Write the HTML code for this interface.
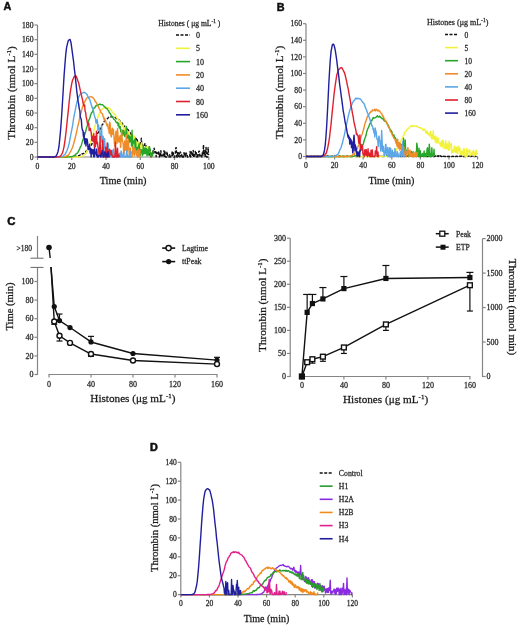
<!DOCTYPE html><html><head><meta charset="utf-8"><style>html,body{margin:0;padding:0;background:#fff;}svg{display:block;filter:blur(0.35px)}</style></head><body>
<svg width="520" height="628" viewBox="0 0 520 628">
<rect width="520" height="628" fill="#fff"/>
<text x="3.6" y="10.4" font-family='"Liberation Sans", sans-serif' font-size="10.8" text-anchor="start" font-weight="bold" fill="#111" stroke="#111" stroke-width="0.45" >A</text>
<line x1="37.5" y1="157.5" x2="37.5" y2="25.01" stroke="#858585" stroke-width="1.2" />
<line x1="34.5" y1="157" x2="37.5" y2="157" stroke="#858585" stroke-width="1.2" />
<text x="33.5" y="159.65" font-family='"Liberation Serif", serif' font-size="7.7" text-anchor="end" font-weight="normal" fill="#2b2b2b" stroke="#2b2b2b" stroke-width="0.26" >0</text>
<line x1="34.5" y1="142.33" x2="37.5" y2="142.33" stroke="#858585" stroke-width="1.2" />
<text x="33.5" y="144.98" font-family='"Liberation Serif", serif' font-size="7.7" text-anchor="end" font-weight="normal" fill="#2b2b2b" stroke="#2b2b2b" stroke-width="0.26" >20</text>
<line x1="34.5" y1="127.67" x2="37.5" y2="127.67" stroke="#858585" stroke-width="1.2" />
<text x="33.5" y="130.32" font-family='"Liberation Serif", serif' font-size="7.7" text-anchor="end" font-weight="normal" fill="#2b2b2b" stroke="#2b2b2b" stroke-width="0.26" >40</text>
<line x1="34.5" y1="113" x2="37.5" y2="113" stroke="#858585" stroke-width="1.2" />
<text x="33.5" y="115.65" font-family='"Liberation Serif", serif' font-size="7.7" text-anchor="end" font-weight="normal" fill="#2b2b2b" stroke="#2b2b2b" stroke-width="0.26" >60</text>
<line x1="34.5" y1="98.34" x2="37.5" y2="98.34" stroke="#858585" stroke-width="1.2" />
<text x="33.5" y="100.99" font-family='"Liberation Serif", serif' font-size="7.7" text-anchor="end" font-weight="normal" fill="#2b2b2b" stroke="#2b2b2b" stroke-width="0.26" >80</text>
<line x1="34.5" y1="83.67" x2="37.5" y2="83.67" stroke="#858585" stroke-width="1.2" />
<text x="33.5" y="86.32" font-family='"Liberation Serif", serif' font-size="7.7" text-anchor="end" font-weight="normal" fill="#2b2b2b" stroke="#2b2b2b" stroke-width="0.26" >100</text>
<line x1="34.5" y1="69" x2="37.5" y2="69" stroke="#858585" stroke-width="1.2" />
<text x="33.5" y="71.65" font-family='"Liberation Serif", serif' font-size="7.7" text-anchor="end" font-weight="normal" fill="#2b2b2b" stroke="#2b2b2b" stroke-width="0.26" >120</text>
<line x1="34.5" y1="54.34" x2="37.5" y2="54.34" stroke="#858585" stroke-width="1.2" />
<text x="33.5" y="56.99" font-family='"Liberation Serif", serif' font-size="7.7" text-anchor="end" font-weight="normal" fill="#2b2b2b" stroke="#2b2b2b" stroke-width="0.26" >140</text>
<line x1="34.5" y1="39.67" x2="37.5" y2="39.67" stroke="#858585" stroke-width="1.2" />
<text x="33.5" y="42.32" font-family='"Liberation Serif", serif' font-size="7.7" text-anchor="end" font-weight="normal" fill="#2b2b2b" stroke="#2b2b2b" stroke-width="0.26" >160</text>
<line x1="34.5" y1="25.01" x2="37.5" y2="25.01" stroke="#858585" stroke-width="1.2" />
<text x="33.5" y="27.66" font-family='"Liberation Serif", serif' font-size="7.7" text-anchor="end" font-weight="normal" fill="#2b2b2b" stroke="#2b2b2b" stroke-width="0.26" >180</text>
<line x1="37" y1="157" x2="208.8" y2="157" stroke="#858585" stroke-width="1.2" />
<line x1="37.5" y1="157" x2="37.5" y2="160" stroke="#858585" stroke-width="1.2" />
<text x="37.5" y="168.5" font-family='"Liberation Serif", serif' font-size="7.7" text-anchor="middle" font-weight="normal" fill="#2b2b2b" stroke="#2b2b2b" stroke-width="0.26" >0</text>
<line x1="71.76" y1="157" x2="71.76" y2="160" stroke="#858585" stroke-width="1.2" />
<text x="71.76" y="168.5" font-family='"Liberation Serif", serif' font-size="7.7" text-anchor="middle" font-weight="normal" fill="#2b2b2b" stroke="#2b2b2b" stroke-width="0.26" >20</text>
<line x1="106.02" y1="157" x2="106.02" y2="160" stroke="#858585" stroke-width="1.2" />
<text x="106.02" y="168.5" font-family='"Liberation Serif", serif' font-size="7.7" text-anchor="middle" font-weight="normal" fill="#2b2b2b" stroke="#2b2b2b" stroke-width="0.26" >40</text>
<line x1="140.28" y1="157" x2="140.28" y2="160" stroke="#858585" stroke-width="1.2" />
<text x="140.28" y="168.5" font-family='"Liberation Serif", serif' font-size="7.7" text-anchor="middle" font-weight="normal" fill="#2b2b2b" stroke="#2b2b2b" stroke-width="0.26" >60</text>
<line x1="174.54" y1="157" x2="174.54" y2="160" stroke="#858585" stroke-width="1.2" />
<text x="174.54" y="168.5" font-family='"Liberation Serif", serif' font-size="7.7" text-anchor="middle" font-weight="normal" fill="#2b2b2b" stroke="#2b2b2b" stroke-width="0.26" >80</text>
<line x1="208.8" y1="157" x2="208.8" y2="160" stroke="#858585" stroke-width="1.2" />
<text x="208.8" y="168.5" font-family='"Liberation Serif", serif' font-size="7.7" text-anchor="middle" font-weight="normal" fill="#2b2b2b" stroke="#2b2b2b" stroke-width="0.26" >100</text>
<text x="123.1" y="184.1" font-family='"Liberation Serif", serif' font-size="10.3" text-anchor="middle" font-weight="normal" fill="#1a1a1a" stroke="#1a1a1a" stroke-width="0.26" >Time (min)</text>
<text x="0" y="0" font-family='"Liberation Serif", serif' font-size="11.2" text-anchor="middle" font-weight="normal" fill="#1a1a1a" stroke="#1a1a1a" stroke-width="0.26" transform="translate(14.5,92.9) rotate(-90)">Thrombin (nmol L<tspan dy="-4" font-size="7">-1</tspan><tspan dy="4">)</tspan></text>
<polyline points="37.5,157 38.36,157 39.21,157 40.07,157 40.93,157 41.78,157 42.64,157 43.5,157 44.35,157 45.21,157 46.06,157 46.92,157 47.78,157 48.63,157 49.49,157 50.35,157 51.2,157 52.06,157 52.92,157 53.77,157 54.63,157 55.49,157 56.34,157 57.2,157 58.06,156.99 58.91,156.99 59.77,156.99 60.63,156.99 61.48,156.98 62.34,156.98 63.2,156.97 64.05,156.96 64.91,156.95 65.76,156.94 66.62,156.92 67.48,156.9 68.33,156.87 69.19,156.83 70.05,156.79 70.9,156.74 71.76,156.68 72.62,156.6 73.47,156.51 74.33,156.41 75.19,156.28 76.04,156.12 76.9,155.94 77.76,155.73 78.61,155.69 79.47,155.61 80.33,154.69 81.18,154.99 82.04,154.01 82.89,153.72 83.75,153.53 84.61,152.38 85.46,152.23 86.32,151 87.18,150.57 88.03,149.62 88.89,148.21 89.75,146.64 90.6,146.28 91.46,144.89 92.32,143.07 93.17,141.28 94.03,140.23 94.89,138.89 95.74,136.62 96.6,136.07 97.46,133.46 98.31,132.45 99.17,130.95 100.02,129.33 100.88,127.49 101.74,125.34 102.59,124.59 103.45,122.72 104.31,121.37 105.16,120.51 106.02,119.28 106.88,118.97 107.73,118.26 108.59,117.55 109.45,116.64 110.3,116.77 111.16,116.9 112.02,116.67 112.87,116.99 113.73,117.41 114.59,117.15 115.44,117.65 116.3,118.65 117.15,118.8 118.01,119.46 118.87,119.71 119.72,120.6 120.58,121.89 121.44,121.91 122.29,123.8 123.15,124.36 124.01,124.92 124.86,126.61 125.72,127.23 126.58,128.8 127.43,129.11 128.29,130.07 129.15,131.37 130,132.33 130.52,133.24 131.03,134.49 131.54,133.64 132.06,136.05 132.57,136.59 133.09,136.66 133.6,137.17 134.11,138.28 134.63,137.11 135.14,139.76 135.65,140.32 136.17,138.42 136.68,140.22 137.2,139.71 137.71,142.27 138.22,143.72 138.74,145.08 139.25,145.85 139.77,145.83 140.28,142.6 140.79,145.1 141.31,138.31 141.82,145.8 142.34,143.41 142.85,148.46 143.36,145.44 143.88,145.58 144.39,146.45 144.91,143.63 145.42,145.47 145.93,145.5 146.45,152.16 146.96,146.73 147.47,153.94 147.99,148.26 148.5,152.52 149.02,152.26 149.53,154.92 150.04,149.22 150.56,153.5 151.07,156.72 151.59,153.27 152.1,155.47 152.61,155.27 153.13,149.76 153.64,154.28 154.16,148.14 154.67,151.33 155.18,152.16 155.7,151.81 156.21,156.69 156.72,152.34 157.24,153.78 157.75,154.51 158.27,153.05 158.78,150.9 159.29,157 159.81,153.31 160.32,157 160.84,150.69 161.35,155.7 161.86,155.4 162.38,157 162.89,155.32 163.41,153.71 163.92,150.65 164.43,157 164.95,151.18 165.46,157 165.97,157 166.49,157 167,151.67 167.52,155.21 168.03,157 168.54,157 169.06,156.52 169.57,154.8 170.09,157 170.6,157 171.11,155.4 171.63,155.74 172.14,151.88 172.66,155.64 173.17,152.68 173.68,157 174.2,157 174.71,157 175.23,154.39 175.74,148.05 176.25,147.66 176.77,157 177.28,157 177.79,152.6 178.31,156.33 178.82,152.83 179.34,153.68 179.85,157 180.36,151.93 180.88,153.19 181.39,156.03 181.91,154.29 182.42,157 182.93,154.77 183.45,156.98 183.96,152.78 184.48,155.83 184.99,152.45 185.5,156.97 186.02,154.2 186.53,153.11 187.04,154.65 187.56,157 188.07,157 188.59,156.84 189.1,157 189.61,157 190.13,151.4 190.64,157 191.16,155.23 191.67,151.81 192.18,151.82 192.7,156.65 193.21,150.41 193.73,157 194.24,156.69 194.75,157 195.27,151.42 195.78,154.37 196.3,152.76 196.81,157 197.32,155.04 197.84,156.91 198.35,154.3 198.86,151.23 199.38,151.23 199.89,157 200.41,157 200.92,155.57 201.43,155.88 201.95,157 202.46,151.61 202.98,155.28 203.49,144.86 204,154.03 204.52,151.04 205.03,157 205.55,153.2 206.06,147.41 206.57,157 207.09,156.98 207.6,157 208.11,147.68 208.63,155.15" fill="none" stroke="#111" stroke-width="1.4" stroke-linejoin="round" stroke-dasharray="3,1.5"/>
<polyline points="37.5,157 38.36,157 39.21,157 40.07,157 40.93,157 41.78,157 42.64,157 43.5,157 44.35,157 45.21,157 46.06,157 46.92,157 47.78,157 48.63,157 49.49,157 50.35,157 51.2,157 52.06,157 52.92,157 53.77,157 54.63,157 55.49,157 56.34,157 57.2,157 58.06,157 58.91,157 59.77,157 60.63,157 61.48,157 62.34,157 63.2,157 64.05,157 64.91,157 65.76,157 66.62,157 67.48,157 68.33,157 69.19,157 70.05,157 70.9,157 71.76,157 72.62,157 73.47,157 74.33,157 75.19,156.99 76.04,156.98 76.9,156.96 77.76,156.94 78.61,156.89 79.47,156.81 80.33,156.69 81.18,156.5 82.04,156.23 82.89,155.85 83.75,154.86 84.61,154.62 85.46,153.97 86.32,152.77 87.18,150.47 88.03,149.01 88.89,147.42 89.75,145.41 90.6,142.24 91.46,139.19 92.32,136.48 93.17,133.55 94.03,129.91 94.89,126.48 95.74,124.28 96.6,121.65 97.46,118.67 98.31,116.22 99.17,113.85 100.02,112.66 100.88,110.52 101.74,109.46 102.59,108.87 103.45,108.62 104.31,107.32 105.16,107.86 106.02,107.16 106.88,107.82 107.73,107.91 108.59,107.71 109.45,108.88 110.3,108.87 111.16,110.27 112.02,111.59 112.87,112.58 113.73,113.44 114.59,114.28 115.44,115.11 116.3,117.25 117.15,118.19 118.01,119.74 118.52,120.2 119.04,120.04 119.55,120.67 120.07,122.57 120.58,124.29 121.09,122.5 121.61,123.55 122.12,125.69 122.64,126.49 123.15,125.72 123.66,129.23 124.18,128.87 124.69,128.36 125.21,131.99 125.72,126.67 126.23,128.56 126.75,132.06 127.26,130.94 127.78,132.34 128.29,136.33 128.8,135.96 129.32,131.62 129.83,137.22 130.34,136.55 130.86,135.83 131.37,140.34 131.89,137.38 132.4,140.63 132.91,138.36 133.43,141.99 133.94,135.61 134.46,136.73 134.97,144.85 135.48,142.92 136,144.59 136.51,141.38 137.03,146.76 137.54,146.58 138.05,142.15 138.57,143.91 139.08,145.9 139.59,143.23 140.11,147.61 140.62,146.88 141.14,147.8 141.65,142.65 142.16,148.09 142.68,146.95 143.19,152.04 143.71,150.37 144.22,152.48 144.73,152.61 145.25,149.25 145.76,148.13 146.28,146.71 146.79,153.17 147.3,150 147.82,146.36 148.33,148.05 148.84,150.42 149.36,151.98 149.87,152.02 150.39,151.72 150.9,155.11 151.41,155.84 151.93,156.93" fill="none" stroke="#f2f23a" stroke-width="1.4" stroke-linejoin="round" />
<polyline points="37.5,157 38.36,157 39.21,157 40.07,157 40.93,157 41.78,157 42.64,157 43.5,157 44.35,157 45.21,157 46.06,157 46.92,157 47.78,157 48.63,157 49.49,157 50.35,157 51.2,157 52.06,157 52.92,157 53.77,157 54.63,157 55.49,157 56.34,157 57.2,157 58.06,157 58.91,157 59.77,157 60.63,157 61.48,157 62.34,157 63.2,157 64.05,157 64.91,156.99 65.76,156.98 66.62,156.97 67.48,156.95 68.33,156.92 69.19,156.87 70.05,156.79 70.9,156.68 71.76,156.51 72.62,156.28 73.47,155.96 74.33,155.53 75.19,154.7 76.04,153.92 76.9,153.33 77.76,152.74 78.61,150.87 79.47,149.43 80.33,146.93 81.18,145.81 82.04,142.66 82.89,139.98 83.75,137.6 84.61,134.67 85.46,132.48 86.32,128.6 87.18,126.24 88.03,122.82 88.89,120.1 89.75,118.39 90.6,115.25 91.46,112.91 92.32,111.99 93.17,109.98 94.03,108.08 94.89,107.62 95.74,105.82 96.6,105.84 97.46,104.69 98.31,105.13 99.17,104.5 100.02,103.9 100.88,104.7 101.74,104.63 102.59,104.67 103.45,105.48 104.31,106.57 105.16,107.28 106.02,108.29 106.88,108.45 107.73,109.88 108.59,110.81 109.45,112.89 110.3,113.43 111.16,115.51 112.02,116.33 112.87,117.53 113.73,119.18 114.59,119.75 115.1,120.2 115.61,121.26 116.13,122.04 116.64,122.8 117.15,122.72 117.67,122.27 118.18,125.79 118.7,123.37 119.21,128 119.72,127.66 120.24,126.56 120.75,131.81 121.27,131.67 121.78,130.61 122.29,130.17 122.81,135.52 123.32,131.06 123.84,130.42 124.35,133.28 124.86,136.6 125.38,133.84 125.89,134.13 126.4,126.55 126.92,135.13 127.43,137.56 127.95,138.43 128.46,135.24 128.97,142.64 129.49,136.08 130,136.17 130.52,141.72 131.03,137.52 131.54,145.95 132.06,130.31 132.57,148 133.09,141.21 133.6,143.01 134.11,140.41 134.63,139.19 135.14,150.58 135.65,141.57 136.17,151.53 136.68,147.63 137.2,149.86 137.71,147.3 138.22,153.89 138.74,145.33 139.25,143.57 139.77,152.6 140.28,155.52 140.79,149.35 141.31,152.72 141.82,149.87 142.34,155.65 142.85,152.28 143.36,145.48 143.88,154 144.39,152.7 144.91,147.98 145.42,153.56 145.93,148.58 146.45,148.37 146.96,155.64 147.47,149.69 147.99,154.85 148.5,155.01 149.02,146.81 149.53,146.7 150.04,151.42 150.56,154.87 151.07,153.54 151.59,157 152.1,154.75 152.61,155.01 153.13,151.45 153.64,152.35" fill="none" stroke="#27a727" stroke-width="1.4" stroke-linejoin="round" />
<polyline points="37.5,157 38.36,157 39.21,157 40.07,157 40.93,157 41.78,157 42.64,157 43.5,157 44.35,157 45.21,157 46.06,157 46.92,157 47.78,157 48.63,157 49.49,157 50.35,157 51.2,157 52.06,157 52.92,157 53.77,157 54.63,157 55.49,157 56.34,157 57.2,157 58.06,157 58.91,156.99 59.77,156.99 60.63,156.98 61.48,156.95 62.34,156.92 63.2,156.85 64.05,156.75 64.91,156.59 65.76,156.35 66.62,155.99 67.48,155.33 68.33,155.24 69.19,153.93 70.05,152.28 70.9,150.81 71.76,149.01 72.62,147.18 73.47,144.34 74.33,141.3 75.19,137.79 76.04,134.46 76.9,130.38 77.76,126.21 78.61,123.2 79.47,118.84 80.33,115.05 81.18,112.11 82.04,108.89 82.89,105.58 83.75,104.32 84.61,101.76 85.46,100.62 86.32,98.67 87.18,97.6 88.03,97.49 88.89,97.61 89.75,96.86 90.6,96.83 91.46,96.61 92.32,97.33 93.17,98.04 94.03,98.92 94.89,100.55 95.74,102.1 96.6,102.98 97.46,105.45 98.31,106.57 99.17,108.63 100.02,109.94 100.88,112.47 101.74,113.24 102.59,113.97 103.11,116.89 103.62,116.9 104.14,119.94 104.65,118.52 105.16,121.04 105.68,121.06 106.19,123.14 106.71,125 107.22,125.92 107.73,123.97 108.25,128.72 108.76,129.19 109.27,133.48 109.79,122.05 110.3,125.13 110.82,134.81 111.33,136.93 111.84,131.63 112.36,128.19 112.87,134.3 113.39,129.45 113.9,136.44 114.41,143.22 114.93,146.49 115.44,137.41 115.96,131.1 116.47,137.48 116.98,143.52 117.5,128.71 118.01,135.42 118.52,141.93 119.04,142.01 119.55,137.76 120.07,135.71 120.58,147.57 121.09,140.1 121.61,130.3 122.12,138.66 122.64,141.45 123.15,143.52 123.66,152.47 124.18,153.43 124.69,140.93 125.21,147.51 125.72,150.35 126.23,134.58 126.75,144.21 127.26,151.99 127.78,141.86 128.29,139.66 128.8,147.69 129.32,157 129.83,156.01 130.34,147.98 130.86,157 131.37,156.55 131.89,157 132.4,156 132.91,146.53 133.43,154.16 133.94,148.04 134.46,155.47 134.97,148.62 135.48,150.22 136,152.1 136.51,155.37 137.03,151.01 137.54,157 138.05,153.01 138.57,149.18 139.08,157 139.59,157 140.11,149.78" fill="none" stroke="#f08c28" stroke-width="1.4" stroke-linejoin="round" />
<polyline points="37.5,157 38.36,157 39.21,157 40.07,157 40.93,157 41.78,157 42.64,157 43.5,157 44.35,157 45.21,157 46.06,157 46.92,157 47.78,157 48.63,157 49.49,157 50.35,157 51.2,157 52.06,157 52.92,157 53.77,157 54.63,157 55.49,157 56.34,157 57.2,156.99 58.06,156.98 58.91,156.96 59.77,156.91 60.63,156.83 61.48,156.69 62.34,156.44 63.2,156.04 64.05,154.91 64.91,154.82 65.76,153.09 66.62,151.26 67.48,149.24 68.33,146.7 69.19,143.23 70.05,138.7 70.9,134.23 71.76,129.85 72.62,125.32 73.47,119.47 74.33,114.65 75.19,110.71 76.04,106.16 76.9,102.17 77.76,99.16 78.61,97.16 79.47,95.37 80.33,93.94 81.18,93.56 82.04,93.09 82.89,92.9 83.75,92.23 84.61,92.7 85.46,92.87 86.32,93.82 87.18,94.81 88.03,96.68 88.89,98.56 89.75,99.47 90.6,102.47 91.46,105.27 92.32,108.13 92.83,107.24 93.34,110.61 93.86,112.83 94.37,115.38 94.89,117.67 95.4,118.09 95.91,122.33 96.43,123.05 96.94,119.8 97.45,121.18 97.97,130.58 98.48,125.19 99,127.88 99.51,128.88 100.02,135.3 100.54,137.42 101.05,140.1 101.57,125.74 102.08,142.55 102.59,140.82 103.11,136.3 103.62,142.82 104.14,148 104.65,138.66 105.16,151.19 105.68,146.71 106.19,153.67 106.71,152.93 107.22,152.94 107.73,142.89 108.25,144.02 108.76,157 109.27,157 109.79,153.17 110.3,151.46 110.82,157 111.33,151.7 111.84,150.48 112.36,157 112.87,157 113.39,149.23 113.9,155.38 114.41,157 114.93,153.9 115.44,156.49 115.96,149.89 116.47,157 116.98,156.15 117.5,155.58 118.01,157 118.52,157 119.04,154.85 119.55,153.26 120.07,157 120.58,157 121.09,150.87 121.61,152.76 122.12,157 122.64,157 123.15,157 123.66,151.95 124.18,156.6 124.69,157 125.21,157 125.72,157 126.23,154.79 126.75,150.74 127.26,157 127.78,155.01 128.29,157 128.8,157 129.32,157 129.83,157 130.34,157 130.86,151.51 131.37,153.6" fill="none" stroke="#5aa6e6" stroke-width="1.4" stroke-linejoin="round" />
<polyline points="37.5,157 38.36,157 39.21,157 40.07,157 40.93,157 41.78,157 42.64,157 43.5,157 44.35,157 45.21,157 46.06,157 46.92,157 47.78,157 48.63,157 49.49,157 50.35,157 51.2,157 52.06,157 52.92,157 53.77,157 54.63,157 55.49,157 56.34,156.99 57.2,156.97 58.06,156.91 58.91,156.77 59.77,156.47 60.63,155.88 61.48,154.67 62.34,153.04 63.2,150.44 64.05,146.53 64.91,141.23 65.76,134.28 66.62,126.76 67.48,118.17 68.33,110.32 69.19,101.77 70.05,93.86 70.9,88.47 71.76,83.34 72.62,80.05 73.47,78.17 74.33,76.24 75.19,76.64 76.04,76.02 76.9,78.08 77.76,80.59 78.61,82.65 79.47,86.56 80.33,90.67 81.18,94.13 82.04,98.02 82.55,99.73 83.07,103.07 83.58,104.93 84.09,106.28 84.61,105.01 85.12,111.41 85.64,112.45 86.15,116.93 86.66,119.02 87.18,121.61 87.69,124.75 88.2,123.56 88.72,122.97 89.23,130.59 89.75,128.84 90.26,128.23 90.77,130.63 91.29,133.07 91.8,140.49 92.32,136.17 92.83,139.04 93.34,141.64 93.86,133.73 94.37,147.44 94.89,137.07 95.4,146.83 95.91,142.76 96.43,131.19 96.94,143.57 97.45,142.12 97.97,147.08 98.48,148.07 99,154.2 99.51,155.63 100.02,136.33 100.54,153.43 101.05,157 101.57,153.98 102.08,150.97 102.59,140.26 103.11,147.08 103.62,151.76 104.14,155.19 104.65,156.65 105.16,157 105.68,147.45 106.19,156.27 106.71,157 107.22,143.03 107.73,157 108.25,150.41 108.76,150.54 109.27,157 109.79,149.12 110.3,152.82 110.82,154.67 111.33,150.59 111.84,155.52 112.36,155.23 112.87,157 113.39,157 113.9,156.42 114.41,157 114.93,157 115.44,142.29 115.96,154.22 116.47,157 116.98,154.8 117.5,148.13 118.01,157 118.52,154.74 119.04,155.77 119.55,157" fill="none" stroke="#e0202c" stroke-width="1.4" stroke-linejoin="round" />
<polyline points="37.5,157 38.36,157 39.21,157 40.07,157 40.93,157 41.78,157 42.64,157 43.5,157 44.35,157 45.21,157 46.06,157 46.92,157 47.78,157 48.63,157 49.49,157 50.35,157 51.2,157 52.06,157 52.92,156.98 53.77,156.94 54.63,156.8 55.49,156.46 56.34,155.68 57.2,153.76 58.06,151.44 58.91,146.96 59.77,138.9 60.63,129.56 61.48,118.29 62.34,104.5 63.2,90.49 64.05,76.07 64.91,64.73 65.76,54.2 66.62,47.32 67.48,43.58 68.33,40.47 69.19,39.93 70.05,39.38 70.9,42.22 71.76,48.05 72.62,54.63 73.47,60.69 74.33,68.72 75.19,75.48 75.7,80.76 76.21,85.29 76.73,90.86 77.24,94.56 77.76,98.84 78.27,102.2 78.78,104.76 79.3,109.2 79.81,110.46 80.33,117.19 80.84,118.07 81.35,120.21 81.87,127.37 82.38,130.22 82.89,130.38 83.41,136.46 83.92,132.36 84.44,140.63 84.95,143.77 85.46,138.6 85.98,145.97 86.49,138.86 87.01,138.89 87.52,141.29 88.03,149.14 88.55,149.52 89.06,147.03 89.58,144.22 90.09,152.99 90.6,148.56 91.12,157 91.63,149.31 92.14,153.75 92.66,153.04 93.17,149.35 93.69,156.72 94.2,157 94.71,148.45 95.23,153.36 95.74,152.85 96.26,155.65 96.77,149 97.28,157 97.8,154.84 98.31,157 98.83,155.52 99.34,155.86 99.85,155.64 100.37,155.27 100.88,157 101.39,153.18 101.91,153.7 102.42,150.6 102.94,157 103.45,157 103.96,157 104.48,151.9 104.99,151.95 105.51,154.48 106.02,157 106.53,155.53 107.05,152.91 107.56,157 108.08,151.76 108.59,156.23 109.1,157" fill="none" stroke="#1e1e9e" stroke-width="1.4" stroke-linejoin="round" />
<text x="189.3" y="26" font-family='"Liberation Serif", serif' font-size="7.6" text-anchor="middle" font-weight="normal" fill="#2b2b2b" stroke="#2b2b2b" stroke-width="0.26" >Histones ( &#956;g mL<tspan dy="-3" font-size="5.3">-1</tspan><tspan dy="3"> )</tspan></text>
<line x1="176" y1="35" x2="190" y2="35" stroke="#111" stroke-width="1.6" stroke-dasharray="3,1.5"/>
<text x="196" y="38" font-family='"Liberation Serif", serif' font-size="8" text-anchor="start" font-weight="normal" fill="#2b2b2b" stroke="#2b2b2b" stroke-width="0.26" >0</text>
<line x1="176" y1="48.3" x2="190" y2="48.3" stroke="#f2f23a" stroke-width="1.6" />
<text x="196" y="51.3" font-family='"Liberation Serif", serif' font-size="8" text-anchor="start" font-weight="normal" fill="#2b2b2b" stroke="#2b2b2b" stroke-width="0.26" >5</text>
<line x1="176" y1="61.6" x2="190" y2="61.6" stroke="#27a727" stroke-width="1.6" />
<text x="196" y="64.6" font-family='"Liberation Serif", serif' font-size="8" text-anchor="start" font-weight="normal" fill="#2b2b2b" stroke="#2b2b2b" stroke-width="0.26" >10</text>
<line x1="176" y1="74.9" x2="190" y2="74.9" stroke="#f08c28" stroke-width="1.6" />
<text x="196" y="77.9" font-family='"Liberation Serif", serif' font-size="8" text-anchor="start" font-weight="normal" fill="#2b2b2b" stroke="#2b2b2b" stroke-width="0.26" >20</text>
<line x1="176" y1="88.2" x2="190" y2="88.2" stroke="#5aa6e6" stroke-width="1.6" />
<text x="196" y="91.2" font-family='"Liberation Serif", serif' font-size="8" text-anchor="start" font-weight="normal" fill="#2b2b2b" stroke="#2b2b2b" stroke-width="0.26" >40</text>
<line x1="176" y1="101.5" x2="190" y2="101.5" stroke="#e0202c" stroke-width="1.6" />
<text x="196" y="104.5" font-family='"Liberation Serif", serif' font-size="8" text-anchor="start" font-weight="normal" fill="#2b2b2b" stroke="#2b2b2b" stroke-width="0.26" >80</text>
<line x1="176" y1="114.8" x2="190" y2="114.8" stroke="#1e1e9e" stroke-width="1.6" />
<text x="196" y="117.8" font-family='"Liberation Serif", serif' font-size="8" text-anchor="start" font-weight="normal" fill="#2b2b2b" stroke="#2b2b2b" stroke-width="0.26" >160</text>
<text x="276.8" y="11.4" font-family='"Liberation Sans", sans-serif' font-size="10.8" text-anchor="start" font-weight="bold" fill="#111" stroke="#111" stroke-width="0.5" >B</text>
<line x1="306" y1="157" x2="306" y2="23.7" stroke="#858585" stroke-width="1.2" />
<line x1="303" y1="156.5" x2="306" y2="156.5" stroke="#858585" stroke-width="1.2" />
<text x="302" y="159.15" font-family='"Liberation Serif", serif' font-size="7.7" text-anchor="end" font-weight="normal" fill="#2b2b2b" stroke="#2b2b2b" stroke-width="0.26" >0</text>
<line x1="303" y1="139.9" x2="306" y2="139.9" stroke="#858585" stroke-width="1.2" />
<text x="302" y="142.55" font-family='"Liberation Serif", serif' font-size="7.7" text-anchor="end" font-weight="normal" fill="#2b2b2b" stroke="#2b2b2b" stroke-width="0.26" >20</text>
<line x1="303" y1="123.3" x2="306" y2="123.3" stroke="#858585" stroke-width="1.2" />
<text x="302" y="125.95" font-family='"Liberation Serif", serif' font-size="7.7" text-anchor="end" font-weight="normal" fill="#2b2b2b" stroke="#2b2b2b" stroke-width="0.26" >40</text>
<line x1="303" y1="106.7" x2="306" y2="106.7" stroke="#858585" stroke-width="1.2" />
<text x="302" y="109.35" font-family='"Liberation Serif", serif' font-size="7.7" text-anchor="end" font-weight="normal" fill="#2b2b2b" stroke="#2b2b2b" stroke-width="0.26" >60</text>
<line x1="303" y1="90.1" x2="306" y2="90.1" stroke="#858585" stroke-width="1.2" />
<text x="302" y="92.75" font-family='"Liberation Serif", serif' font-size="7.7" text-anchor="end" font-weight="normal" fill="#2b2b2b" stroke="#2b2b2b" stroke-width="0.26" >80</text>
<line x1="303" y1="73.5" x2="306" y2="73.5" stroke="#858585" stroke-width="1.2" />
<text x="302" y="76.15" font-family='"Liberation Serif", serif' font-size="7.7" text-anchor="end" font-weight="normal" fill="#2b2b2b" stroke="#2b2b2b" stroke-width="0.26" >100</text>
<line x1="303" y1="56.9" x2="306" y2="56.9" stroke="#858585" stroke-width="1.2" />
<text x="302" y="59.55" font-family='"Liberation Serif", serif' font-size="7.7" text-anchor="end" font-weight="normal" fill="#2b2b2b" stroke="#2b2b2b" stroke-width="0.26" >120</text>
<line x1="303" y1="40.3" x2="306" y2="40.3" stroke="#858585" stroke-width="1.2" />
<text x="302" y="42.95" font-family='"Liberation Serif", serif' font-size="7.7" text-anchor="end" font-weight="normal" fill="#2b2b2b" stroke="#2b2b2b" stroke-width="0.26" >140</text>
<line x1="303" y1="23.7" x2="306" y2="23.7" stroke="#858585" stroke-width="1.2" />
<text x="302" y="26.35" font-family='"Liberation Serif", serif' font-size="7.7" text-anchor="end" font-weight="normal" fill="#2b2b2b" stroke="#2b2b2b" stroke-width="0.26" >160</text>
<line x1="305.5" y1="156.5" x2="477.6" y2="156.5" stroke="#858585" stroke-width="1.2" />
<line x1="306" y1="156.5" x2="306" y2="159.5" stroke="#858585" stroke-width="1.2" />
<text x="306" y="168" font-family='"Liberation Serif", serif' font-size="7.7" text-anchor="middle" font-weight="normal" fill="#2b2b2b" stroke="#2b2b2b" stroke-width="0.26" >0</text>
<line x1="334.6" y1="156.5" x2="334.6" y2="159.5" stroke="#858585" stroke-width="1.2" />
<text x="334.6" y="168" font-family='"Liberation Serif", serif' font-size="7.7" text-anchor="middle" font-weight="normal" fill="#2b2b2b" stroke="#2b2b2b" stroke-width="0.26" >20</text>
<line x1="363.2" y1="156.5" x2="363.2" y2="159.5" stroke="#858585" stroke-width="1.2" />
<text x="363.2" y="168" font-family='"Liberation Serif", serif' font-size="7.7" text-anchor="middle" font-weight="normal" fill="#2b2b2b" stroke="#2b2b2b" stroke-width="0.26" >40</text>
<line x1="391.8" y1="156.5" x2="391.8" y2="159.5" stroke="#858585" stroke-width="1.2" />
<text x="391.8" y="168" font-family='"Liberation Serif", serif' font-size="7.7" text-anchor="middle" font-weight="normal" fill="#2b2b2b" stroke="#2b2b2b" stroke-width="0.26" >60</text>
<line x1="420.4" y1="156.5" x2="420.4" y2="159.5" stroke="#858585" stroke-width="1.2" />
<text x="420.4" y="168" font-family='"Liberation Serif", serif' font-size="7.7" text-anchor="middle" font-weight="normal" fill="#2b2b2b" stroke="#2b2b2b" stroke-width="0.26" >80</text>
<line x1="449" y1="156.5" x2="449" y2="159.5" stroke="#858585" stroke-width="1.2" />
<text x="449" y="168" font-family='"Liberation Serif", serif' font-size="7.7" text-anchor="middle" font-weight="normal" fill="#2b2b2b" stroke="#2b2b2b" stroke-width="0.26" >100</text>
<line x1="477.6" y1="156.5" x2="477.6" y2="159.5" stroke="#858585" stroke-width="1.2" />
<text x="477.6" y="168" font-family='"Liberation Serif", serif' font-size="7.7" text-anchor="middle" font-weight="normal" fill="#2b2b2b" stroke="#2b2b2b" stroke-width="0.26" >120</text>
<text x="391.4" y="184" font-family='"Liberation Serif", serif' font-size="10.1" text-anchor="middle" font-weight="normal" fill="#1a1a1a" stroke="#1a1a1a" stroke-width="0.26" >Time (min)</text>
<text x="0" y="0" font-family='"Liberation Serif", serif' font-size="11.2" text-anchor="middle" font-weight="normal" fill="#1a1a1a" stroke="#1a1a1a" stroke-width="0.26" transform="translate(283.1,92.6) rotate(-90)">Thrombin (nmol L<tspan dy="-4" font-size="7">-1</tspan><tspan dy="4">)</tspan></text>
<polyline points="306,156.5 306.43,156.5 306.86,156.35 307.29,156.21 307.72,156.26 308.14,156.5 308.57,156.5 309,155.98 309.43,156.06 309.86,156.5 310.29,156.5 310.72,156.5 311.15,156.04 311.58,156.44 312.01,156.5 312.44,156.17 312.86,155.25 313.29,156.5 313.72,156.41 314.15,156.5 314.58,155.82 315.01,156.5 315.44,156.5 315.87,156.5 316.3,156.5 316.73,156.19 317.15,156.46 317.58,156.12 318.01,156.5 318.44,156.32 318.87,156.5 319.3,155.88 319.73,156.5 320.16,156.5 320.59,156.43 321.01,156.5 321.44,156.5 321.87,156.18 322.3,156.42 322.73,156.09 323.16,156.28 323.59,155.86 324.02,156.23 324.45,156.5 324.88,156.5 325.31,156.5 325.73,156.5 326.16,156.15 326.59,156.5 327.02,156.5 327.45,155.56 327.88,156.42 328.31,156.5 328.74,156.5 329.17,155.86 329.6,156.09 330.02,156.5 330.45,156.5 330.88,156.44 331.31,156.5 331.74,156.5 332.17,156 332.6,156.5 333.03,156.5 333.46,156.42 333.89,156.45 334.31,156.09 334.74,155.61 335.17,156.28 335.6,156.5 336.03,156.5 336.46,156.5 336.89,156.34 337.32,156.5 337.75,156.4 338.18,156.5 338.6,156.5 339.03,156.5 339.46,156.3 339.89,155.83 340.32,156.5 340.75,156.5 341.18,156.35 341.61,156.5 342.04,156.5 342.47,156.5 342.89,156.21 343.32,156.5 343.75,156.15 344.18,156.5 344.61,156.3 345.04,156.5 345.47,156.18 345.9,156.3 346.33,156.2 346.76,156.44 347.18,156.45 347.61,156.06 348.04,156.35 348.47,156.5 348.9,156.5 349.33,156.5 349.76,156.5 350.19,156.48 350.62,156.5 351.05,156.5 351.47,156.5 351.9,156.5 352.33,156.5 352.76,156.5 353.19,156.5 353.62,156.5 354.05,156.5 354.48,156.22 354.91,156.22 355.34,156.5 355.76,155.9 356.19,155.97 356.62,156.5 357.05,155.97 357.48,156.5 357.91,156.5 358.34,156.5 358.77,156.5 359.2,156.5 359.62,156.5 360.05,156.5 360.48,156.5 360.91,156.5 361.34,156.46 361.77,156.5 362.2,156.5 362.63,156.5 363.06,156.5 363.49,156.12 363.91,156.5 364.34,156.5 364.77,155.91 365.2,155.86 365.63,156.5 366.06,156.13 366.49,155.99 366.92,156.5 367.35,156.16 367.78,156.21 368.2,155.91 368.63,156 369.06,156.18 369.49,156.5 369.92,156.5 370.35,156.5 370.78,156.09 371.21,156.5 371.64,156.5 372.07,156.5 372.49,156.5 372.92,156.5 373.35,156.48 373.78,156.5 374.21,156.31 374.64,156.5 375.07,156.47 375.5,155.89 375.93,156.34 376.36,156.47 376.78,156.34 377.21,156.5 377.64,156.5 378.07,156.5 378.5,156.5 378.93,156.27 379.36,156.2 379.79,156.5 380.22,156.14 380.65,156.5 381.07,156.44 381.5,156.5 381.93,156.22 382.36,156.5 382.79,156.46 383.22,156.5 383.65,156.5 384.08,156.5 384.51,156.2 384.94,156.5 385.36,156.5 385.79,156.5 386.22,156.26 386.65,156.1 387.08,155.65 387.51,156.5 387.94,156.5 388.37,156.45 388.8,156.32 389.23,156.5 389.65,156.5 390.08,156.5 390.51,156.5 390.94,156.5 391.37,156.02 391.8,156.07 392.23,155.89 392.66,156.5 393.09,156.5 393.52,156.5 393.94,156.23 394.37,155.52 394.8,156.5 395.23,156.5 395.66,156.48 396.09,156.5 396.52,156.5 396.95,156.37 397.38,155.57 397.81,155.93 398.23,156.5 398.66,156.5 399.09,156.5 399.52,156.07 399.95,156.2 400.38,156.5 400.81,156.5 401.24,156.5 401.67,156.07 402.1,156.04 402.52,156.5 402.95,156.14 403.38,156.17 403.81,156.5 404.24,156.5 404.67,156.29 405.1,156.28 405.53,156.05 405.96,156.5 406.39,156.5 406.81,156.5 407.24,156.5 407.67,155.66 408.1,156.36 408.53,156.5 408.96,155.94 409.39,156.35 409.82,156.5 410.25,156.28 410.68,156.24 411.1,156.34 411.53,156.32 411.96,156.29 412.39,156.38 412.82,156.5 413.25,156.5 413.68,156.5 414.11,156.5 414.54,156.5 414.97,155.98 415.39,155.92 415.82,156.32 416.25,156.5 416.68,156.5 417.11,155.49 417.54,156.43 417.97,156.5 418.4,156.46 418.83,156.02 419.26,156.34 419.68,156.5 420.11,155.98 420.54,156.19 420.97,156.49 421.4,156.5 421.83,156.5 422.26,156.22 422.69,156.18 423.12,156.5 423.55,156.5 423.97,156.28 424.4,156.38 424.83,156.5 425.26,156.06 425.69,156.5 426.12,156.5 426.55,156.5 426.98,156.24 427.41,156.5 427.84,156.5 428.26,156.35 428.69,155.71 429.12,156.5 429.55,156.12 429.98,156.5 430.41,156.5 430.84,156.5 431.27,156.18 431.7,156.5 432.13,156.5 432.55,156.5 432.98,156.32 433.41,156.5 433.84,156.5 434.27,156.5 434.7,156.5 435.13,155.95 435.56,155.86 435.99,156.5 436.42,156.16 436.84,156.5 437.27,156.14 437.7,155.92 438.13,156.5 438.56,155.77 438.99,156.38 439.42,156.15 439.85,156.5 440.28,155.8 440.71,156.19 441.13,156.5 441.56,156.5 441.99,156.4 442.42,156.06 442.85,156.5 443.28,155.75 443.71,156.3 444.14,156.49 444.57,156.34 445,156.43 445.42,156.5 445.85,156.5 446.28,156.5 446.71,156.5 447.14,156.03 447.57,156.5 448,156.5 448.43,156.5 448.86,156.25 449.29,156.5 449.71,156.5 450.14,156.5 450.57,156.5 451,156.24 451.43,156.5 451.86,156.5 452.29,156.5 452.72,156.43 453.15,156.21 453.58,156.5 454,156 454.43,156.5 454.86,156.5 455.29,156.46 455.72,156.5 456.15,156.5 456.58,156.19 457.01,156.1 457.44,156.5 457.87,156.5 458.29,156.5 458.72,156.5 459.15,156.21 459.58,156.15 460.01,156.5 460.44,156.2 460.87,156.16 461.3,156.34 461.73,156.11 462.16,156.5 462.58,156.4 463.01,156.5 463.44,156.5 463.87,156.5 464.3,156.5 464.73,156.5 465.16,156.5 465.59,156.5 466.02,156.38 466.45,156.5 466.87,156.45 467.3,155.59 467.73,156.5 468.16,156.09 468.59,156.16 469.02,155.95 469.45,156.5 469.88,156.5 470.31,156 470.74,156.5 471.16,156.5 471.59,155.66 472.02,156.27 472.45,156.14 472.88,156.5 473.31,156.5 473.74,156.37 474.17,156.5 474.6,156.5 475.03,156.06 475.45,156.34 475.88,156.5 476.31,156.5 476.74,156.22 477.17,156.38 477.6,156.24" fill="none" stroke="#111" stroke-width="1.4" stroke-linejoin="round" stroke-dasharray="3,1.5"/>
<polyline points="306,156.5 306.71,156.5 307.43,156.5 308.14,156.5 308.86,156.5 309.57,156.5 310.29,156.5 311,156.5 311.72,156.5 312.44,156.5 313.15,156.5 313.87,156.5 314.58,156.5 315.3,156.5 316.01,156.5 316.73,156.5 317.44,156.5 318.15,156.5 318.87,156.5 319.58,156.5 320.3,156.5 321.01,156.5 321.73,156.5 322.44,156.5 323.16,156.5 323.88,156.5 324.59,156.5 325.31,156.5 326.02,156.5 326.74,156.5 327.45,156.5 328.17,156.5 328.88,156.5 329.6,156.5 330.31,156.5 331.02,156.5 331.74,156.5 332.45,156.5 333.17,156.5 333.88,156.5 334.6,156.5 335.31,156.5 336.03,156.5 336.75,156.5 337.46,156.5 338.18,156.5 338.89,156.5 339.61,156.5 340.32,156.5 341.03,156.5 341.75,156.5 342.46,156.5 343.18,156.5 343.89,156.5 344.61,156.5 345.32,156.5 346.04,156.5 346.75,156.5 347.47,156.5 348.19,156.5 348.9,156.5 349.62,156.5 350.33,156.5 351.05,156.5 351.76,156.5 352.48,156.5 353.19,156.5 353.9,156.5 354.62,156.5 355.33,156.5 356.05,156.5 356.76,156.5 357.48,156.5 358.19,156.5 358.91,156.5 359.62,156.5 360.34,156.5 361.06,156.5 361.77,156.5 362.49,156.5 363.2,156.5 363.92,156.5 364.63,156.5 365.35,156.5 366.06,156.5 366.77,156.5 367.49,156.5 368.2,156.5 368.92,156.5 369.63,156.5 370.35,156.5 371.06,156.5 371.78,156.5 372.5,156.5 373.21,156.5 373.93,156.5 374.64,156.5 375.36,156.5 376.07,156.5 376.78,156.5 377.5,156.5 378.22,156.5 378.93,156.5 379.64,156.5 380.36,156.5 381.07,156.5 381.79,156.49 382.5,156.49 383.22,156.48 383.94,156.48 384.65,156.46 385.37,156.44 386.08,156.4 386.8,156.35 387.51,156.28 388.23,156.18 388.94,156.04 389.65,155.86 390.37,155.63 391.08,155.32 391.8,154.94 392.51,155 393.23,153.26 393.94,152.8 394.66,153.01 395.38,152.08 396.09,150.78 396.81,148.7 397.52,148.37 398.24,146.4 398.95,144.61 399.66,143.48 400.38,141.55 401.1,140.84 401.81,139.42 402.52,138.05 403.24,135.58 403.95,135.03 404.67,132.54 405.38,131.67 406.1,131.26 406.81,129.45 407.53,129.44 408.25,128.25 408.96,128.18 409.68,126.78 410.39,126.26 411.11,125.94 411.82,126.95 412.53,125.69 413.25,126.01 413.96,125.62 414.68,126.04 415.39,125.9 416.11,126.05 416.82,125.95 417.54,127.14 418.25,127.45 418.97,127.1 419.69,127.78 420.4,127.98 420.83,127.74 421.26,128.15 421.69,128.54 422.12,128.45 422.54,129.54 422.97,129.18 423.4,130.64 423.83,129.93 424.26,129.08 424.69,129.3 425.12,129.72 425.55,132.29 425.98,132.22 426.41,133.38 426.83,131.04 427.26,131.34 427.69,133.97 428.12,133.89 428.55,133.25 428.98,134.69 429.41,135.88 429.84,134.18 430.27,132.03 430.7,131.46 431.12,137.39 431.55,134.5 431.98,139.17 432.41,138.02 432.84,136.02 433.27,130.77 433.7,137.42 434.13,139.43 434.56,138.74 434.99,136.51 435.41,142.55 435.84,136.05 436.27,141.89 436.7,138.31 437.13,143.29 437.56,139 437.99,137.65 438.42,142.01 438.85,142.3 439.28,143.58 439.7,144.08 440.13,143.05 440.56,146.11 440.99,144.88 441.42,141.21 441.85,143.42 442.28,147.12 442.71,140.18 443.14,143.56 443.57,141.38 443.99,147.35 444.42,148.34 444.85,148.68 445.28,147.85 445.71,140.9 446.14,145.78 446.57,148.36 447,145.14 447.43,143.66 447.86,149.51 448.28,149.44 448.71,150.31 449.14,141.1 449.57,149.98 450,143.9 450.43,145.42 450.86,144.57 451.29,143.67 451.72,152.95 452.15,149.38 452.57,152.34 453,152.39 453.43,151.77 453.86,150.14 454.29,146.14 454.72,150.87 455.15,152.02 455.58,147.37 456.01,149.33 456.44,152.89 456.86,147.09 457.29,147.78 457.72,153.41 458.15,149.9 458.58,146.11 459.01,150.18 459.44,149.43 459.87,148.13 460.3,154.28 460.73,150.84 461.15,154.26 461.58,153.13 462.01,151.71 462.44,152.87 462.87,155.16 463.3,150.14 463.73,148.48 464.16,154 464.59,149.24 465.02,156.38 465.44,156.46 465.87,156.47 466.3,156.34 466.73,148.45 467.16,153.04 467.59,156.04 468.02,150.72 468.45,150.45 468.88,151.85 469.31,150.75 469.73,149.84 470.16,154.91 470.59,155.73 471.02,155.35 471.45,154.5 471.88,152.07 472.31,154.09 472.74,151.4 473.17,154.34 473.6,150.1 474.02,153.93 474.45,156.04 474.88,155.24 475.31,152.67 475.74,153.49 476.17,150.06 476.6,154.4 477.03,153.86 477.46,152.79" fill="none" stroke="#f2f23a" stroke-width="1.4" stroke-linejoin="round" />
<polyline points="306,156.5 306.71,156.5 307.43,156.5 308.14,156.5 308.86,156.5 309.57,156.5 310.29,156.5 311,156.5 311.72,156.5 312.44,156.5 313.15,156.5 313.87,156.5 314.58,156.5 315.3,156.5 316.01,156.5 316.73,156.5 317.44,156.5 318.15,156.5 318.87,156.5 319.58,156.5 320.3,156.5 321.01,156.5 321.73,156.5 322.44,156.5 323.16,156.5 323.88,156.5 324.59,156.5 325.31,156.5 326.02,156.5 326.74,156.5 327.45,156.5 328.17,156.5 328.88,156.5 329.6,156.5 330.31,156.5 331.02,156.5 331.74,156.5 332.45,156.5 333.17,156.5 333.88,156.5 334.6,156.5 335.31,156.5 336.03,156.5 336.75,156.5 337.46,156.5 338.18,156.5 338.89,156.5 339.61,156.5 340.32,156.5 341.03,156.5 341.75,156.5 342.46,156.5 343.18,156.5 343.89,156.5 344.61,156.5 345.32,156.5 346.04,156.5 346.75,156.5 347.47,156.5 348.19,156.5 348.9,156.49 349.62,156.48 350.33,156.47 351.05,156.45 351.76,156.42 352.48,156.37 353.19,156.29 353.9,156.17 354.62,156 355.33,155.77 356.05,155.44 356.76,155.02 357.48,154.22 358.19,154.54 358.91,152.96 359.62,151.54 360.34,150.99 361.06,150.01 361.77,146.46 362.49,144.76 363.2,144.3 363.92,141.47 364.63,138.91 365.35,137.23 366.06,135.35 366.77,131.69 367.49,129.41 368.2,127.95 368.92,126.67 369.63,124.25 370.35,123.23 371.06,120.09 371.78,120.72 372.5,119.26 373.21,117.52 373.93,118.18 374.64,117.8 375.36,117.58 376.07,117.21 376.78,116.39 377.5,115.75 378.22,117.07 378.93,117.12 379.64,116.1 380.36,117.06 381.07,117.61 381.79,118.53 382.5,118.87 383.22,118.1 383.94,120.57 384.65,121.14 385.37,121.12 386.08,121.82 386.8,122.85 387.51,124.83 388.23,125.03 388.94,126.94 389.65,128.8 390.37,129.7 391.08,130.48 391.8,131.72 392.51,134.2 393.23,135.35 393.94,135.08 394.66,138.02 395.38,137.82 396.09,139.95 396.81,141.28 397.52,142.09 397.95,142.77 398.38,143.46 398.81,143.62 399.24,144.09 399.66,143.93 400.09,146.01 400.52,144.34 400.95,144.77 401.38,144.54 401.81,145.82 402.24,150.41 402.67,146.44 403.1,151.41 403.53,138.31 403.95,150.91 404.38,147.77 404.81,151.75 405.24,140.03 405.67,151.95 406.1,152.89 406.53,150.38 406.96,151.74 407.39,152.61 407.82,151.67 408.24,151.72 408.67,156.34 409.1,156.18 409.53,151.77 409.96,155.75 410.39,154.52 410.82,155.57 411.25,156.49 411.68,151.54 412.11,152.76 412.53,152.4 412.96,156.5 413.39,152.08 413.82,154.81 414.25,154.63 414.68,155.94 415.11,156.5 415.54,156.5 415.97,152.97 416.4,154.26 416.82,143.12 417.25,146 417.68,156.18 418.11,156.5 418.54,156.5 418.97,148.24 419.4,156.5 419.83,152.99 420.26,150.77 420.69,154.86 421.11,156.5 421.54,156.5 421.97,154.76 422.4,153.51 422.83,155.24 423.26,156.5 423.69,155.18 424.12,150.98 424.55,156.5 424.98,156.42 425.4,153.55 425.83,156.5 426.26,156.5 426.69,153.69 427.12,148.62 427.55,147.73 427.98,154.9 428.41,153.49 428.84,156.5 429.27,144.12 429.69,148.18 430.12,156.5 430.55,156.5 430.98,153.36 431.41,156.5 431.84,147.72 432.27,154.91 432.7,155.29 433.13,156.5 433.56,156.5 433.98,149.29 434.41,155.23" fill="none" stroke="#27a727" stroke-width="1.4" stroke-linejoin="round" />
<polyline points="306,156.5 306.71,156.5 307.43,156.5 308.14,156.5 308.86,156.5 309.57,156.5 310.29,156.5 311,156.5 311.72,156.5 312.44,156.5 313.15,156.5 313.87,156.5 314.58,156.5 315.3,156.5 316.01,156.5 316.73,156.5 317.44,156.5 318.15,156.5 318.87,156.5 319.58,156.5 320.3,156.5 321.01,156.5 321.73,156.5 322.44,156.5 323.16,156.5 323.88,156.5 324.59,156.5 325.31,156.5 326.02,156.5 326.74,156.5 327.45,156.5 328.17,156.5 328.88,156.5 329.6,156.5 330.31,156.5 331.02,156.5 331.74,156.5 332.45,156.5 333.17,156.5 333.88,156.5 334.6,156.5 335.31,156.5 336.03,156.5 336.75,156.5 337.46,156.5 338.18,156.5 338.89,156.5 339.61,156.5 340.32,156.5 341.03,156.5 341.75,156.5 342.46,156.5 343.18,156.5 343.89,156.49 344.61,156.49 345.32,156.48 346.04,156.47 346.75,156.45 347.47,156.41 348.19,156.36 348.9,156.29 349.62,156.18 350.33,156.03 351.05,155.81 351.76,155.52 352.48,155.14 353.19,154.07 353.9,153.98 354.62,154.21 355.33,151.67 356.05,151.29 356.76,149.44 357.48,148.1 358.19,146.03 358.91,144.73 359.62,141.52 360.34,139.27 361.06,136.94 361.77,135.09 362.49,133.18 363.2,130.54 363.92,128.28 364.63,124.62 365.35,122.56 366.06,120.43 366.77,118.41 367.49,116.3 368.2,115.34 368.92,114.73 369.63,112.72 370.35,112.77 371.06,111.34 371.78,111.68 372.5,109.87 373.21,110.33 373.93,110.59 374.64,109.21 375.36,110.86 376.07,109.16 376.78,109.58 377.5,110.99 378.22,110.11 378.93,110.96 379.64,110.89 380.36,112.25 381.07,113.41 381.79,113.35 382.5,116.08 383.22,115.85 383.94,118.42 384.65,119.37 385.37,121.06 386.08,120.96 386.8,123.28 387.51,124.2 388.23,126.65 388.94,127.24 389.65,128.93 390.37,131.56 391.08,132.28 391.8,133.32 392.51,135.79 393.23,136.34 393.94,138.48 394.66,138.84 395.09,140.01 395.52,141.18 395.95,142.97 396.38,140.33 396.8,144.9 397.23,146.41 397.66,139.25 398.09,143.41 398.52,148.16 398.95,146.25 399.38,142.78 399.81,150.15 400.24,143.21 400.67,148.97 401.09,145.84 401.52,146.13 401.95,153.17 402.38,153.82 402.81,152.92 403.24,154.36 403.67,146.77 404.1,152.84 404.53,156.5 404.96,151.7 405.38,153.99 405.81,151.2 406.24,155.14 406.67,156.5 407.1,153.55 407.53,149.59 407.96,147.56 408.39,153.54 408.82,150.39 409.25,156.5 409.67,150.42 410.1,150.22 410.53,156.5 410.96,156.5 411.39,153.62 411.82,153.81 412.25,154.93 412.68,156.5 413.11,152.62 413.54,151.94 413.96,156.5 414.39,156.5 414.82,156.5 415.25,152.62 415.68,151.78 416.11,156.5 416.54,156.5 416.97,156.5 417.4,152.08" fill="none" stroke="#f08c28" stroke-width="1.4" stroke-linejoin="round" />
<polyline points="306,156.5 306.71,156.5 307.43,156.5 308.14,156.5 308.86,156.5 309.57,156.5 310.29,156.5 311,156.5 311.72,156.5 312.44,156.5 313.15,156.5 313.87,156.5 314.58,156.5 315.3,156.5 316.01,156.5 316.73,156.5 317.44,156.5 318.15,156.5 318.87,156.5 319.58,156.5 320.3,156.5 321.01,156.5 321.73,156.5 322.44,156.5 323.16,156.5 323.88,156.5 324.59,156.5 325.31,156.5 326.02,156.5 326.74,156.5 327.45,156.5 328.17,156.5 328.88,156.49 329.6,156.49 330.31,156.48 331.02,156.46 331.74,156.42 332.45,156.37 333.17,156.29 333.88,156.17 334.6,155.98 335.31,155.72 336.03,155.35 336.75,154.85 337.46,154.63 338.18,153.92 338.89,152.72 339.61,150.4 340.32,149.03 341.03,147.74 341.75,144.88 342.46,143.11 343.18,139.72 343.89,136.91 344.61,134 345.32,129.8 346.04,126.42 346.75,123.27 347.47,120.37 348.19,116.48 348.9,113.76 349.62,110.66 350.33,108.89 351.05,105.59 351.76,104.87 352.48,102.97 353.19,101.44 353.9,100.7 354.62,100.1 355.33,98.78 356.05,98.03 356.76,98.72 357.48,98.73 358.19,98.17 358.91,98.81 359.62,98.79 360.34,98.84 361.06,99.81 361.77,100.99 362.49,102.11 363.2,102.66 363.92,103.4 364.63,104.98 365.35,107.68 366.06,108.88 366.77,110.74 367.49,113.05 368.2,114.41 368.92,116.68 369.63,118.34 370.35,121.12 371.06,122.36 371.78,125.74 372.21,125.66 372.64,126.52 373.07,129.72 373.5,128.54 373.92,132.91 374.35,130.09 374.78,137.06 375.21,128.04 375.64,130.61 376.07,131.34 376.5,135.38 376.93,138.92 377.36,139.42 377.79,140.47 378.21,146.65 378.64,137.63 379.07,136.07 379.5,140.47 379.93,140.87 380.36,147.77 380.79,151 381.22,144.57 381.65,130.43 382.08,140.32 382.5,151.34 382.93,151.35 383.36,146.18 383.79,151.5 384.22,155.91 384.65,153.88 385.08,152.7 385.51,145.19 385.94,144.34 386.37,154.7 386.79,149.91 387.22,151.34 387.65,147.56 388.08,156.5 388.51,151.55 388.94,156.5 389.37,147.69 389.8,156.5 390.23,156.5 390.66,148.29 391.08,156.5 391.51,156.5 391.94,156.5 392.37,150.24 392.8,156.5 393.23,152.26 393.66,156.5 394.09,156.5 394.52,156.5 394.95,148.36 395.37,153.38 395.8,156.5 396.23,156.5 396.66,156.5 397.09,151.35 397.52,156.5 397.95,153.21 398.38,156.5 398.81,156.5 399.24,156.16 399.66,156.5 400.09,153.39 400.52,151.73 400.95,155.28 401.38,156.5 401.81,154.56 402.24,148.59 402.67,141.69 403.1,156.5 403.53,156.5 403.95,156.5 404.38,156.5 404.81,156.5 405.24,156.5 405.67,149.39 406.1,149.42" fill="none" stroke="#5aa6e6" stroke-width="1.4" stroke-linejoin="round" />
<polyline points="306,156.5 306.71,156.5 307.43,156.5 308.14,156.5 308.86,156.5 309.57,156.5 310.29,156.5 311,156.5 311.72,156.5 312.44,156.5 313.15,156.5 313.87,156.5 314.58,156.5 315.3,156.5 316.01,156.5 316.73,156.5 317.44,156.5 318.15,156.5 318.87,156.5 319.58,156.49 320.3,156.48 321.01,156.46 321.73,156.41 322.44,156.32 323.16,156.15 323.88,155.84 324.59,155.33 325.31,154.03 326.02,153.74 326.74,151.2 327.45,149.03 328.17,145.32 328.88,141.62 329.6,136.95 330.31,130.12 331.02,124.52 331.74,116.93 332.45,109.61 333.17,103.22 333.88,95.77 334.6,89.85 335.31,84.5 336.03,79.78 336.75,74.99 337.46,72.85 338.18,70.6 338.89,69.27 339.61,69.15 340.32,67.85 341.03,67.78 341.75,67.7 342.46,68.96 343.18,70.24 343.89,71.63 344.61,73.16 345.32,75.73 346.04,78.92 346.75,81.96 347.47,85.94 348.19,88.64 348.9,93.14 349.62,97.13 350.33,100.86 351.05,105.76 351.76,109.16 352.48,113.67 353.19,116.97 353.9,121.69 354.62,125.04 355.33,127.95 356.05,131.34 356.48,134.57 356.91,133.43 357.34,134.92 357.77,136.04 358.19,135.76 358.62,141.71 359.05,143.39 359.48,142.45 359.91,134.95 360.34,149.6 360.77,150.35 361.2,144.5 361.63,148.64 362.06,146.62 362.48,145.38 362.91,153.89 363.34,154.48 363.77,153.42 364.2,156.5 364.63,150.07 365.06,149.7 365.49,154.92 365.92,154.62 366.35,149.75 366.77,155.65 367.2,155.18 367.63,156.5 368.06,148.74 368.49,155.67 368.92,152.6 369.35,153.47 369.78,156.5 370.21,156.5 370.64,155.28 371.06,150.18 371.49,156.5 371.92,156.5 372.35,149.96 372.78,156.5 373.21,156.5 373.64,156.5 374.07,156.5 374.5,156.5 374.93,156.5 375.35,150.87 375.78,153.62 376.21,153.56 376.64,146.59 377.07,156.5 377.5,156.5 377.93,151.95 378.36,156.5 378.79,156.5" fill="none" stroke="#e0202c" stroke-width="1.4" stroke-linejoin="round" />
<polyline points="306,156.5 306.71,156.5 307.43,156.5 308.14,156.5 308.86,156.5 309.57,156.5 310.29,156.5 311,156.5 311.72,156.5 312.44,156.5 313.15,156.5 313.87,156.5 314.58,156.5 315.3,156.5 316.01,156.5 316.73,156.5 317.44,156.5 318.15,156.5 318.87,156.5 319.58,156.5 320.3,156.48 321.01,156.44 321.73,156.3 322.44,155.93 323.16,155.04 323.88,153.06 324.59,149.43 325.31,144.35 326.02,135.7 326.74,125.04 327.45,111.44 328.17,97.23 328.88,82.58 329.6,70.17 330.31,59.82 331.02,51.82 331.74,47.84 332.45,44.51 333.17,44.12 333.88,44.58 334.6,47.25 335.31,50.62 336.03,55.34 336.75,60.31 337.46,66.38 338.18,72.12 338.89,77.34 339.61,83.99 340.32,88.78 341.03,94.46 341.75,99.67 342.46,104.83 343.18,110.55 343.89,114.33 344.61,118.82 345.32,123.27 346.04,125.83 346.75,129.56 347.18,132.59 347.61,134.69 348.04,137.24 348.47,135.3 348.9,138.67 349.33,137.12 349.76,144.11 350.19,138.53 350.62,139.82 351.05,139.67 351.47,147.57 351.9,141.44 352.33,145.94 352.76,152.91 353.19,150.64 353.62,139.38 354.05,135.16 354.48,142.08 354.91,150.75 355.33,145.05 355.76,147.13 356.19,148.06 356.62,152.03 357.05,156.5 357.48,151.93 357.91,152.66 358.34,156.03 358.77,152.13 359.2,154.81 359.62,156.5 360.05,149.49" fill="none" stroke="#1e1e9e" stroke-width="1.4" stroke-linejoin="round" />
<text x="457.7" y="25" font-family='"Liberation Serif", serif' font-size="8" text-anchor="middle" font-weight="normal" fill="#2b2b2b" stroke="#2b2b2b" stroke-width="0.26" >Histones (&#956;g mL<tspan dy="-3" font-size="5.6">-1</tspan><tspan dy="3">)</tspan></text>
<line x1="445" y1="34.5" x2="458" y2="34.5" stroke="#111" stroke-width="1.6" stroke-dasharray="3,1.5"/>
<text x="464.5" y="37.5" font-family='"Liberation Serif", serif' font-size="7.5" text-anchor="start" font-weight="normal" fill="#2b2b2b" stroke="#2b2b2b" stroke-width="0.26" >0</text>
<line x1="445" y1="47.6" x2="458" y2="47.6" stroke="#f2f23a" stroke-width="1.6" />
<text x="464.5" y="50.6" font-family='"Liberation Serif", serif' font-size="7.5" text-anchor="start" font-weight="normal" fill="#2b2b2b" stroke="#2b2b2b" stroke-width="0.26" >5</text>
<line x1="445" y1="60.7" x2="458" y2="60.7" stroke="#27a727" stroke-width="1.6" />
<text x="464.5" y="63.7" font-family='"Liberation Serif", serif' font-size="7.5" text-anchor="start" font-weight="normal" fill="#2b2b2b" stroke="#2b2b2b" stroke-width="0.26" >10</text>
<line x1="445" y1="73.8" x2="458" y2="73.8" stroke="#f08c28" stroke-width="1.6" />
<text x="464.5" y="76.8" font-family='"Liberation Serif", serif' font-size="7.5" text-anchor="start" font-weight="normal" fill="#2b2b2b" stroke="#2b2b2b" stroke-width="0.26" >20</text>
<line x1="445" y1="86.9" x2="458" y2="86.9" stroke="#5aa6e6" stroke-width="1.6" />
<text x="464.5" y="89.9" font-family='"Liberation Serif", serif' font-size="7.5" text-anchor="start" font-weight="normal" fill="#2b2b2b" stroke="#2b2b2b" stroke-width="0.26" >40</text>
<line x1="445" y1="100" x2="458" y2="100" stroke="#e0202c" stroke-width="1.6" />
<text x="464.5" y="103" font-family='"Liberation Serif", serif' font-size="7.5" text-anchor="start" font-weight="normal" fill="#2b2b2b" stroke="#2b2b2b" stroke-width="0.26" >80</text>
<line x1="445" y1="113.1" x2="458" y2="113.1" stroke="#1e1e9e" stroke-width="1.6" />
<text x="464.5" y="116.1" font-family='"Liberation Serif", serif' font-size="7.5" text-anchor="start" font-weight="normal" fill="#2b2b2b" stroke="#2b2b2b" stroke-width="0.26" >160</text>
<text x="7.3" y="224.7" font-family='"Liberation Sans", sans-serif' font-size="11.3" text-anchor="start" font-weight="bold" fill="#111" stroke="#111" stroke-width="0.55" >C</text>
<line x1="37.5" y1="375" x2="37.5" y2="267" stroke="#858585" stroke-width="1.2" />
<line x1="34.5" y1="374.5" x2="37.5" y2="374.5" stroke="#858585" stroke-width="1.2" />
<text x="33.5" y="377.2" font-family='"Liberation Serif", serif' font-size="8" text-anchor="end" font-weight="normal" fill="#2b2b2b" stroke="#2b2b2b" stroke-width="0.26" >0</text>
<line x1="34.5" y1="355.9" x2="37.5" y2="355.9" stroke="#858585" stroke-width="1.2" />
<text x="33.5" y="358.6" font-family='"Liberation Serif", serif' font-size="8" text-anchor="end" font-weight="normal" fill="#2b2b2b" stroke="#2b2b2b" stroke-width="0.26" >20</text>
<line x1="34.5" y1="337.3" x2="37.5" y2="337.3" stroke="#858585" stroke-width="1.2" />
<text x="33.5" y="340" font-family='"Liberation Serif", serif' font-size="8" text-anchor="end" font-weight="normal" fill="#2b2b2b" stroke="#2b2b2b" stroke-width="0.26" >40</text>
<line x1="34.5" y1="318.7" x2="37.5" y2="318.7" stroke="#858585" stroke-width="1.2" />
<text x="33.5" y="321.4" font-family='"Liberation Serif", serif' font-size="8" text-anchor="end" font-weight="normal" fill="#2b2b2b" stroke="#2b2b2b" stroke-width="0.26" >60</text>
<line x1="34.5" y1="300.1" x2="37.5" y2="300.1" stroke="#858585" stroke-width="1.2" />
<text x="33.5" y="302.8" font-family='"Liberation Serif", serif' font-size="8" text-anchor="end" font-weight="normal" fill="#2b2b2b" stroke="#2b2b2b" stroke-width="0.26" >80</text>
<line x1="34.5" y1="281.5" x2="37.5" y2="281.5" stroke="#858585" stroke-width="1.2" />
<text x="33.5" y="284.2" font-family='"Liberation Serif", serif' font-size="8" text-anchor="end" font-weight="normal" fill="#2b2b2b" stroke="#2b2b2b" stroke-width="0.26" >100</text>
<line x1="30.5" y1="258.2" x2="43.5" y2="258.2" stroke="#666" stroke-width="1" />
<line x1="30.5" y1="267.4" x2="43.5" y2="267.4" stroke="#666" stroke-width="1" />
<line x1="37.5" y1="258" x2="37.5" y2="236" stroke="#858585" stroke-width="1.2" />
<text x="32" y="250.5" font-family='"Liberation Serif", serif' font-size="7.5" text-anchor="end" font-weight="normal" fill="#2b2b2b" stroke="#2b2b2b" stroke-width="0.26" >&gt;180</text>
<line x1="48.5" y1="374.5" x2="217.5" y2="374.5" stroke="#858585" stroke-width="1.2" />
<line x1="49" y1="374.5" x2="49" y2="377.5" stroke="#858585" stroke-width="1.2" />
<text x="49" y="386.5" font-family='"Liberation Serif", serif' font-size="8" text-anchor="middle" font-weight="normal" fill="#2b2b2b" stroke="#2b2b2b" stroke-width="0.26" >0</text>
<line x1="91" y1="374.5" x2="91" y2="377.5" stroke="#858585" stroke-width="1.2" />
<text x="91" y="386.5" font-family='"Liberation Serif", serif' font-size="8" text-anchor="middle" font-weight="normal" fill="#2b2b2b" stroke="#2b2b2b" stroke-width="0.26" >40</text>
<line x1="133" y1="374.5" x2="133" y2="377.5" stroke="#858585" stroke-width="1.2" />
<text x="133" y="386.5" font-family='"Liberation Serif", serif' font-size="8" text-anchor="middle" font-weight="normal" fill="#2b2b2b" stroke="#2b2b2b" stroke-width="0.26" >80</text>
<line x1="175" y1="374.5" x2="175" y2="377.5" stroke="#858585" stroke-width="1.2" />
<text x="175" y="386.5" font-family='"Liberation Serif", serif' font-size="8" text-anchor="middle" font-weight="normal" fill="#2b2b2b" stroke="#2b2b2b" stroke-width="0.26" >120</text>
<line x1="217" y1="374.5" x2="217" y2="377.5" stroke="#858585" stroke-width="1.2" />
<text x="217" y="386.5" font-family='"Liberation Serif", serif' font-size="8" text-anchor="middle" font-weight="normal" fill="#2b2b2b" stroke="#2b2b2b" stroke-width="0.26" >160</text>
<text x="132.9" y="402.4" font-family='"Liberation Serif", serif' font-size="11.2" text-anchor="middle" font-weight="normal" fill="#1a1a1a" stroke="#1a1a1a" stroke-width="0.26" >Histones (&#956;g mL<tspan dy="-4.2" font-size="7">-1</tspan><tspan dy="4.2">)</tspan></text>
<text x="0" y="0" font-family='"Liberation Serif", serif' font-size="10.6" text-anchor="middle" font-weight="normal" fill="#1a1a1a" stroke="#1a1a1a" stroke-width="0.26" transform="translate(13,306.5) rotate(-90)">Time (min)</text>
<polyline points="49,247 50.2,258" fill="none" stroke="#111" stroke-width="1.4" stroke-linejoin="round" />
<polyline points="51,267 54.25,306.61 59.5,320.56 70,327.53 91,341.95 133,353.48 217,360.08" fill="none" stroke="#111" stroke-width="1.4" stroke-linejoin="round" />
<polyline points="51,267 54.25,321.49 59.5,335.72 70,342.88 91,354.04 133,360.55 217,364.08" fill="none" stroke="#111" stroke-width="1.4" stroke-linejoin="round" />
<line x1="59.5" y1="320.56" x2="59.5" y2="314.05" stroke="#111" stroke-width="1.2" />
<line x1="56.5" y1="314.05" x2="62.5" y2="314.05" stroke="#111" stroke-width="1.2" />
<line x1="91" y1="341.95" x2="91" y2="336.37" stroke="#111" stroke-width="1.2" />
<line x1="88" y1="336.37" x2="94" y2="336.37" stroke="#111" stroke-width="1.2" />
<line x1="217" y1="360.08" x2="217" y2="357.3" stroke="#111" stroke-width="1.2" />
<line x1="214" y1="357.3" x2="220" y2="357.3" stroke="#111" stroke-width="1.2" />
<line x1="59.5" y1="335.72" x2="59.5" y2="341.02" stroke="#111" stroke-width="1.2" />
<line x1="56.5" y1="341.02" x2="62.5" y2="341.02" stroke="#111" stroke-width="1.2" />
<line x1="91" y1="354.04" x2="91" y2="356.37" stroke="#111" stroke-width="1.2" />
<line x1="88" y1="356.37" x2="94" y2="356.37" stroke="#111" stroke-width="1.2" />
<line x1="54.25" y1="321.49" x2="54.25" y2="324.28" stroke="#111" stroke-width="1.2" />
<line x1="51.25" y1="324.28" x2="57.25" y2="324.28" stroke="#111" stroke-width="1.2" />
<circle cx="49" cy="247.5" r="2.8" fill="#111"/>
<circle cx="54.25" cy="306.61" r="2.6" fill="#111"/>
<circle cx="59.5" cy="320.56" r="2.6" fill="#111"/>
<circle cx="70" cy="327.53" r="2.6" fill="#111"/>
<circle cx="91" cy="341.95" r="2.6" fill="#111"/>
<circle cx="133" cy="353.48" r="2.6" fill="#111"/>
<circle cx="217" cy="360.08" r="2.6" fill="#111"/>
<circle cx="54.25" cy="321.49" r="2.5" fill="#fff" stroke="#111" stroke-width="1.4"/>
<circle cx="59.5" cy="335.72" r="2.5" fill="#fff" stroke="#111" stroke-width="1.4"/>
<circle cx="70" cy="342.88" r="2.5" fill="#fff" stroke="#111" stroke-width="1.4"/>
<circle cx="91" cy="354.04" r="2.5" fill="#fff" stroke="#111" stroke-width="1.4"/>
<circle cx="133" cy="360.55" r="2.5" fill="#fff" stroke="#111" stroke-width="1.4"/>
<circle cx="217" cy="364.08" r="2.5" fill="#fff" stroke="#111" stroke-width="1.4"/>
<line x1="162.2" y1="248.1" x2="175.2" y2="248.1" stroke="#111" stroke-width="1.6" />
<circle cx="168.6" cy="248.1" r="2.6" fill="#fff" stroke="#111" stroke-width="1.4"/>
<text x="182" y="250.8" font-family='"Liberation Serif", serif' font-size="7.8" text-anchor="start" font-weight="normal" fill="#2b2b2b" stroke="#2b2b2b" stroke-width="0.26" >Lagtime</text>
<line x1="162.2" y1="261.6" x2="175.2" y2="261.6" stroke="#111" stroke-width="1.6" />
<circle cx="168.6" cy="261.6" r="2.6" fill="#111"/>
<text x="182" y="264.3" font-family='"Liberation Serif", serif' font-size="7.8" text-anchor="start" font-weight="normal" fill="#2b2b2b" stroke="#2b2b2b" stroke-width="0.26" >ttPeak</text>
<line x1="290.2" y1="377" x2="290.2" y2="238.2" stroke="#858585" stroke-width="1.2" />
<line x1="287" y1="376.5" x2="290.2" y2="376.5" stroke="#858585" stroke-width="1.2" />
<text x="286" y="379.2" font-family='"Liberation Serif", serif' font-size="8" text-anchor="end" font-weight="normal" fill="#2b2b2b" stroke="#2b2b2b" stroke-width="0.26" >0</text>
<line x1="287" y1="353.45" x2="290.2" y2="353.45" stroke="#858585" stroke-width="1.2" />
<text x="286" y="356.15" font-family='"Liberation Serif", serif' font-size="8" text-anchor="end" font-weight="normal" fill="#2b2b2b" stroke="#2b2b2b" stroke-width="0.26" >50</text>
<line x1="287" y1="330.4" x2="290.2" y2="330.4" stroke="#858585" stroke-width="1.2" />
<text x="286" y="333.1" font-family='"Liberation Serif", serif' font-size="8" text-anchor="end" font-weight="normal" fill="#2b2b2b" stroke="#2b2b2b" stroke-width="0.26" >100</text>
<line x1="287" y1="307.35" x2="290.2" y2="307.35" stroke="#858585" stroke-width="1.2" />
<text x="286" y="310.05" font-family='"Liberation Serif", serif' font-size="8" text-anchor="end" font-weight="normal" fill="#2b2b2b" stroke="#2b2b2b" stroke-width="0.26" >150</text>
<line x1="287" y1="284.3" x2="290.2" y2="284.3" stroke="#858585" stroke-width="1.2" />
<text x="286" y="287" font-family='"Liberation Serif", serif' font-size="8" text-anchor="end" font-weight="normal" fill="#2b2b2b" stroke="#2b2b2b" stroke-width="0.26" >200</text>
<line x1="287" y1="261.25" x2="290.2" y2="261.25" stroke="#858585" stroke-width="1.2" />
<text x="286" y="263.95" font-family='"Liberation Serif", serif' font-size="8" text-anchor="end" font-weight="normal" fill="#2b2b2b" stroke="#2b2b2b" stroke-width="0.26" >250</text>
<line x1="287" y1="238.2" x2="290.2" y2="238.2" stroke="#858585" stroke-width="1.2" />
<text x="286" y="240.9" font-family='"Liberation Serif", serif' font-size="8" text-anchor="end" font-weight="normal" fill="#2b2b2b" stroke="#2b2b2b" stroke-width="0.26" >300</text>
<line x1="482.5" y1="377" x2="482.5" y2="238.6" stroke="#858585" stroke-width="1.2" />
<line x1="482.5" y1="376.5" x2="485.7" y2="376.5" stroke="#858585" stroke-width="1.2" />
<text x="486.5" y="379.2" font-family='"Liberation Serif", serif' font-size="8" text-anchor="start" font-weight="normal" fill="#2b2b2b" stroke="#2b2b2b" stroke-width="0.26" >0</text>
<line x1="482.5" y1="342.02" x2="485.7" y2="342.02" stroke="#858585" stroke-width="1.2" />
<text x="486.5" y="344.72" font-family='"Liberation Serif", serif' font-size="8" text-anchor="start" font-weight="normal" fill="#2b2b2b" stroke="#2b2b2b" stroke-width="0.26" >500</text>
<line x1="482.5" y1="307.55" x2="485.7" y2="307.55" stroke="#858585" stroke-width="1.2" />
<text x="486.5" y="310.25" font-family='"Liberation Serif", serif' font-size="8" text-anchor="start" font-weight="normal" fill="#2b2b2b" stroke="#2b2b2b" stroke-width="0.26" >1000</text>
<line x1="482.5" y1="273.07" x2="485.7" y2="273.07" stroke="#858585" stroke-width="1.2" />
<text x="486.5" y="275.77" font-family='"Liberation Serif", serif' font-size="8" text-anchor="start" font-weight="normal" fill="#2b2b2b" stroke="#2b2b2b" stroke-width="0.26" >1500</text>
<line x1="482.5" y1="238.6" x2="485.7" y2="238.6" stroke="#858585" stroke-width="1.2" />
<text x="486.5" y="241.3" font-family='"Liberation Serif", serif' font-size="8" text-anchor="start" font-weight="normal" fill="#2b2b2b" stroke="#2b2b2b" stroke-width="0.26" >2000</text>
<line x1="300.5" y1="376.5" x2="470.4" y2="376.5" stroke="#858585" stroke-width="1.2" />
<line x1="301.9" y1="376.5" x2="301.9" y2="379.5" stroke="#858585" stroke-width="1.2" />
<text x="301.9" y="388" font-family='"Liberation Serif", serif' font-size="8" text-anchor="middle" font-weight="normal" fill="#2b2b2b" stroke="#2b2b2b" stroke-width="0.26" >0</text>
<line x1="343.9" y1="376.5" x2="343.9" y2="379.5" stroke="#858585" stroke-width="1.2" />
<text x="343.9" y="388" font-family='"Liberation Serif", serif' font-size="8" text-anchor="middle" font-weight="normal" fill="#2b2b2b" stroke="#2b2b2b" stroke-width="0.26" >40</text>
<line x1="385.9" y1="376.5" x2="385.9" y2="379.5" stroke="#858585" stroke-width="1.2" />
<text x="385.9" y="388" font-family='"Liberation Serif", serif' font-size="8" text-anchor="middle" font-weight="normal" fill="#2b2b2b" stroke="#2b2b2b" stroke-width="0.26" >80</text>
<line x1="427.9" y1="376.5" x2="427.9" y2="379.5" stroke="#858585" stroke-width="1.2" />
<text x="427.9" y="388" font-family='"Liberation Serif", serif' font-size="8" text-anchor="middle" font-weight="normal" fill="#2b2b2b" stroke="#2b2b2b" stroke-width="0.26" >120</text>
<line x1="469.9" y1="376.5" x2="469.9" y2="379.5" stroke="#858585" stroke-width="1.2" />
<text x="469.9" y="388" font-family='"Liberation Serif", serif' font-size="8" text-anchor="middle" font-weight="normal" fill="#2b2b2b" stroke="#2b2b2b" stroke-width="0.26" >160</text>
<text x="385.6" y="403" font-family='"Liberation Serif", serif' font-size="11.2" text-anchor="middle" font-weight="normal" fill="#1a1a1a" stroke="#1a1a1a" stroke-width="0.26" >Histones (&#956;g mL<tspan dy="-4.2" font-size="7">-1</tspan><tspan dy="4.2">)</tspan></text>
<text x="0" y="0" font-family='"Liberation Serif", serif' font-size="11.2" text-anchor="middle" font-weight="normal" fill="#1a1a1a" stroke="#1a1a1a" stroke-width="0.26" transform="translate(266.3,305.2) rotate(-90)">Thrombin (nmol L<tspan dy="-4" font-size="7">-1</tspan><tspan dy="4">)</tspan></text>
<text x="0" y="0" font-family='"Liberation Serif", serif' font-size="11" text-anchor="middle" font-weight="normal" fill="#1a1a1a" stroke="#1a1a1a" stroke-width="0.26" transform="translate(508.5,307) rotate(90)">Thrombin (nmol min)</text>
<polyline points="301.9,376.5 307.15,362.21 312.4,359.21 322.9,356.68 343.9,347.46 385.9,324.41 469.9,285.22" fill="none" stroke="#111" stroke-width="1.4" stroke-linejoin="round" />
<polyline points="301.9,376.5 307.15,312.38 312.4,303.55 322.9,298.93 343.9,288.59 385.9,278.45 469.9,277.56" fill="none" stroke="#111" stroke-width="1.4" stroke-linejoin="round" />
<line x1="307.15" y1="312.38" x2="307.15" y2="294.45" stroke="#111" stroke-width="1.2" />
<line x1="303.15" y1="294.45" x2="311.15" y2="294.45" stroke="#111" stroke-width="1.2" />
<line x1="312.4" y1="303.55" x2="312.4" y2="294.45" stroke="#111" stroke-width="1.2" />
<line x1="308.4" y1="294.45" x2="316.4" y2="294.45" stroke="#111" stroke-width="1.2" />
<line x1="322.9" y1="298.93" x2="322.9" y2="287.55" stroke="#111" stroke-width="1.2" />
<line x1="319.4" y1="287.55" x2="326.4" y2="287.55" stroke="#111" stroke-width="1.2" />
<line x1="343.9" y1="288.59" x2="343.9" y2="276.52" stroke="#111" stroke-width="1.2" />
<line x1="340.4" y1="276.52" x2="347.4" y2="276.52" stroke="#111" stroke-width="1.2" />
<line x1="385.9" y1="278.45" x2="385.9" y2="265.49" stroke="#111" stroke-width="1.2" />
<line x1="382.4" y1="265.49" x2="389.4" y2="265.49" stroke="#111" stroke-width="1.2" />
<line x1="469.9" y1="277.56" x2="469.9" y2="272.39" stroke="#111" stroke-width="1.2" />
<line x1="466.4" y1="272.39" x2="473.4" y2="272.39" stroke="#111" stroke-width="1.2" />
<line x1="312.4" y1="359.21" x2="312.4" y2="363.13" stroke="#111" stroke-width="1.2" />
<line x1="309.4" y1="363.13" x2="315.4" y2="363.13" stroke="#111" stroke-width="1.2" />
<line x1="322.9" y1="356.68" x2="322.9" y2="361.29" stroke="#111" stroke-width="1.2" />
<line x1="319.9" y1="361.29" x2="325.9" y2="361.29" stroke="#111" stroke-width="1.2" />
<line x1="343.9" y1="347.46" x2="343.9" y2="353.45" stroke="#111" stroke-width="1.2" />
<line x1="340.9" y1="353.45" x2="346.9" y2="353.45" stroke="#111" stroke-width="1.2" />
<line x1="385.9" y1="324.41" x2="385.9" y2="330.4" stroke="#111" stroke-width="1.2" />
<line x1="382.9" y1="330.4" x2="388.9" y2="330.4" stroke="#111" stroke-width="1.2" />
<line x1="469.9" y1="285.22" x2="469.9" y2="311.04" stroke="#111" stroke-width="1.2" />
<line x1="466.9" y1="311.04" x2="472.9" y2="311.04" stroke="#111" stroke-width="1.2" />
<rect x="299.5" y="374.1" width="4.8" height="4.8" fill="#fff" stroke="#111" stroke-width="1.4"/>
<rect x="304.75" y="359.81" width="4.8" height="4.8" fill="#fff" stroke="#111" stroke-width="1.4"/>
<rect x="310" y="356.81" width="4.8" height="4.8" fill="#fff" stroke="#111" stroke-width="1.4"/>
<rect x="320.5" y="354.28" width="4.8" height="4.8" fill="#fff" stroke="#111" stroke-width="1.4"/>
<rect x="341.5" y="345.06" width="4.8" height="4.8" fill="#fff" stroke="#111" stroke-width="1.4"/>
<rect x="383.5" y="322.01" width="4.8" height="4.8" fill="#fff" stroke="#111" stroke-width="1.4"/>
<rect x="467.5" y="282.82" width="4.8" height="4.8" fill="#fff" stroke="#111" stroke-width="1.4"/>
<rect x="299.3" y="373.9" width="5.2" height="5.2" fill="#111"/>
<rect x="304.55" y="309.78" width="5.2" height="5.2" fill="#111"/>
<rect x="309.8" y="300.95" width="5.2" height="5.2" fill="#111"/>
<rect x="320.3" y="296.33" width="5.2" height="5.2" fill="#111"/>
<rect x="341.3" y="285.99" width="5.2" height="5.2" fill="#111"/>
<rect x="383.3" y="275.85" width="5.2" height="5.2" fill="#111"/>
<rect x="467.3" y="274.96" width="5.2" height="5.2" fill="#111"/>
<line x1="435.8" y1="233.7" x2="448.7" y2="233.7" stroke="#111" stroke-width="1.5" />
<rect x="439.8" y="231.2" width="5" height="5" fill="#fff" stroke="#111" stroke-width="1.3"/>
<text x="456" y="236.7" font-family='"Liberation Serif", serif' font-size="7.7" text-anchor="start" font-weight="normal" fill="#2b2b2b" stroke="#2b2b2b" stroke-width="0.26" >Peak</text>
<line x1="435.8" y1="247.1" x2="448.7" y2="247.1" stroke="#111" stroke-width="1.5" />
<rect x="440.5" y="244.7" width="5" height="5" fill="#111"/>
<text x="456" y="249.9" font-family='"Liberation Serif", serif' font-size="7.7" text-anchor="start" font-weight="normal" fill="#2b2b2b" stroke="#2b2b2b" stroke-width="0.26" >ETP</text>
<text x="150" y="450.8" font-family='"Liberation Sans", sans-serif' font-size="10.8" text-anchor="start" font-weight="bold" fill="#111" stroke="#111" stroke-width="0.55" >D</text>
<line x1="180.8" y1="595.1" x2="180.8" y2="462.3" stroke="#858585" stroke-width="1.2" />
<line x1="177.8" y1="594.6" x2="180.8" y2="594.6" stroke="#858585" stroke-width="1.2" />
<text x="176.8" y="597.25" font-family='"Liberation Serif", serif' font-size="7.5" text-anchor="end" font-weight="normal" fill="#2b2b2b" stroke="#2b2b2b" stroke-width="0.26" >0</text>
<line x1="177.8" y1="575.7" x2="180.8" y2="575.7" stroke="#858585" stroke-width="1.2" />
<text x="176.8" y="578.35" font-family='"Liberation Serif", serif' font-size="7.5" text-anchor="end" font-weight="normal" fill="#2b2b2b" stroke="#2b2b2b" stroke-width="0.26" >20</text>
<line x1="177.8" y1="556.8" x2="180.8" y2="556.8" stroke="#858585" stroke-width="1.2" />
<text x="176.8" y="559.45" font-family='"Liberation Serif", serif' font-size="7.5" text-anchor="end" font-weight="normal" fill="#2b2b2b" stroke="#2b2b2b" stroke-width="0.26" >40</text>
<line x1="177.8" y1="537.9" x2="180.8" y2="537.9" stroke="#858585" stroke-width="1.2" />
<text x="176.8" y="540.55" font-family='"Liberation Serif", serif' font-size="7.5" text-anchor="end" font-weight="normal" fill="#2b2b2b" stroke="#2b2b2b" stroke-width="0.26" >60</text>
<line x1="177.8" y1="519" x2="180.8" y2="519" stroke="#858585" stroke-width="1.2" />
<text x="176.8" y="521.65" font-family='"Liberation Serif", serif' font-size="7.5" text-anchor="end" font-weight="normal" fill="#2b2b2b" stroke="#2b2b2b" stroke-width="0.26" >80</text>
<line x1="177.8" y1="500.1" x2="180.8" y2="500.1" stroke="#858585" stroke-width="1.2" />
<text x="176.8" y="502.75" font-family='"Liberation Serif", serif' font-size="7.5" text-anchor="end" font-weight="normal" fill="#2b2b2b" stroke="#2b2b2b" stroke-width="0.26" >100</text>
<line x1="177.8" y1="481.2" x2="180.8" y2="481.2" stroke="#858585" stroke-width="1.2" />
<text x="176.8" y="483.85" font-family='"Liberation Serif", serif' font-size="7.5" text-anchor="end" font-weight="normal" fill="#2b2b2b" stroke="#2b2b2b" stroke-width="0.26" >120</text>
<line x1="177.8" y1="462.3" x2="180.8" y2="462.3" stroke="#858585" stroke-width="1.2" />
<text x="176.8" y="464.95" font-family='"Liberation Serif", serif' font-size="7.5" text-anchor="end" font-weight="normal" fill="#2b2b2b" stroke="#2b2b2b" stroke-width="0.26" >140</text>
<line x1="180.3" y1="594.6" x2="352.4" y2="594.6" stroke="#858585" stroke-width="1.2" />
<line x1="180.8" y1="594.6" x2="180.8" y2="597.6" stroke="#858585" stroke-width="1.2" />
<text x="180.8" y="605.6" font-family='"Liberation Serif", serif' font-size="7.5" text-anchor="middle" font-weight="normal" fill="#2b2b2b" stroke="#2b2b2b" stroke-width="0.26" >0</text>
<line x1="209.4" y1="594.6" x2="209.4" y2="597.6" stroke="#858585" stroke-width="1.2" />
<text x="209.4" y="605.6" font-family='"Liberation Serif", serif' font-size="7.5" text-anchor="middle" font-weight="normal" fill="#2b2b2b" stroke="#2b2b2b" stroke-width="0.26" >20</text>
<line x1="238" y1="594.6" x2="238" y2="597.6" stroke="#858585" stroke-width="1.2" />
<text x="238" y="605.6" font-family='"Liberation Serif", serif' font-size="7.5" text-anchor="middle" font-weight="normal" fill="#2b2b2b" stroke="#2b2b2b" stroke-width="0.26" >40</text>
<line x1="266.6" y1="594.6" x2="266.6" y2="597.6" stroke="#858585" stroke-width="1.2" />
<text x="266.6" y="605.6" font-family='"Liberation Serif", serif' font-size="7.5" text-anchor="middle" font-weight="normal" fill="#2b2b2b" stroke="#2b2b2b" stroke-width="0.26" >60</text>
<line x1="295.2" y1="594.6" x2="295.2" y2="597.6" stroke="#858585" stroke-width="1.2" />
<text x="295.2" y="605.6" font-family='"Liberation Serif", serif' font-size="7.5" text-anchor="middle" font-weight="normal" fill="#2b2b2b" stroke="#2b2b2b" stroke-width="0.26" >80</text>
<line x1="323.8" y1="594.6" x2="323.8" y2="597.6" stroke="#858585" stroke-width="1.2" />
<text x="323.8" y="605.6" font-family='"Liberation Serif", serif' font-size="7.5" text-anchor="middle" font-weight="normal" fill="#2b2b2b" stroke="#2b2b2b" stroke-width="0.26" >100</text>
<line x1="352.4" y1="594.6" x2="352.4" y2="597.6" stroke="#858585" stroke-width="1.2" />
<text x="352.4" y="605.6" font-family='"Liberation Serif", serif' font-size="7.5" text-anchor="middle" font-weight="normal" fill="#2b2b2b" stroke="#2b2b2b" stroke-width="0.26" >120</text>
<text x="266.5" y="621.5" font-family='"Liberation Serif", serif' font-size="10" text-anchor="middle" font-weight="normal" fill="#1a1a1a" stroke="#1a1a1a" stroke-width="0.26" >Time (min)</text>
<text x="0" y="0" font-family='"Liberation Serif", serif' font-size="10.5" text-anchor="middle" font-weight="normal" fill="#1a1a1a" stroke="#1a1a1a" stroke-width="0.26" transform="translate(157.5,528) rotate(-90)">Thrombin (nmol L<tspan dy="-4" font-size="6.8">-1</tspan><tspan dy="4">)</tspan></text>
<polyline points="180.8,594.6 181.52,594.6 182.23,594.6 182.95,594.6 183.66,594.6 184.38,594.6 185.09,594.6 185.81,594.6 186.52,594.6 187.24,594.6 187.95,594.6 188.67,594.6 189.38,594.6 190.09,594.6 190.81,594.6 191.53,594.6 192.24,594.6 192.96,594.6 193.67,594.6 194.39,594.6 195.1,594.6 195.81,594.6 196.53,594.6 197.25,594.6 197.96,594.6 198.68,594.6 199.39,594.6 200.11,594.6 200.82,594.6 201.54,594.6 202.25,594.6 202.97,594.6 203.68,594.6 204.4,594.6 205.11,594.6 205.83,594.6 206.54,594.6 207.25,594.6 207.97,594.6 208.69,594.6 209.4,594.6 210.12,594.6 210.83,594.6 211.55,594.6 212.26,594.6 212.98,594.6 213.69,594.6 214.41,594.6 215.12,594.6 215.84,594.6 216.55,594.6 217.27,594.6 217.98,594.6 218.69,594.6 219.41,594.6 220.12,594.6 220.84,594.6 221.56,594.6 222.27,594.6 222.99,594.6 223.7,594.6 224.42,594.6 225.13,594.6 225.84,594.6 226.56,594.6 227.28,594.6 227.99,594.6 228.71,594.6 229.42,594.6 230.14,594.6 230.85,594.6 231.56,594.6 232.28,594.6 233,594.6 233.71,594.6 234.43,594.6 235.14,594.6 235.86,594.6 236.57,594.6 237.29,594.6 238,594.6 238.72,594.6 239.43,594.6 240.15,594.6 240.86,594.6 241.58,594.6 242.29,594.6 243,594.6 243.72,594.6 244.44,594.6 245.15,594.6 245.87,594.6 246.58,594.6 247.3,594.6 248.01,594.6 248.73,594.6 249.44,594.6 250.16,594.6 250.87,594.6 251.59,594.6 252.3,594.6 253.02,594.6 253.73,594.59 254.44,594.59 255.16,594.58 255.88,594.56 256.59,594.54 257.31,594.5 258.02,594.44 258.74,594.36 259.45,594.23 260.17,594.06 260.88,593.83 261.6,593.52 262.31,593.12 263.02,592.62 263.74,592.24 264.46,590.54 265.17,589.57 265.88,589.36 266.6,587.64 267.31,586.56 268.03,585.81 268.75,583.06 269.46,582.64 270.18,581.12 270.89,578.85 271.61,577.83 272.32,575.5 273.04,574.05 273.75,571.77 274.47,571.24 275.18,569.38 275.89,568.43 276.61,567.82 277.32,567.59 278.04,566.87 278.75,566.12 279.47,565.91 280.19,565.28 280.9,565.34 281.62,565.53 282.33,565.06 283.05,564.46 283.76,565.69 284.48,565.62 285.19,566.3 285.9,566.41 286.62,566.75 287.34,566.5 288.05,566.22 288.76,566.8 289.48,567.08 289.91,567.88 290.34,568.57 290.77,568.86 291.2,568.38 291.62,568.34 292.05,568.76 292.48,569.95 292.91,570.17 293.34,568.86 293.77,567.26 294.2,569.18 294.63,570.46 295.06,571.8 295.49,570.48 295.91,572.27 296.34,572.03 296.77,571.32 297.2,572.72 297.63,572.85 298.06,575.69 298.49,572.1 298.92,571.91 299.35,575.44 299.78,576.79 300.2,573.25 300.63,565.54 301.06,574.1 301.49,573.96 301.92,577.54 302.35,574.37 302.78,579.45 303.21,579.1 303.64,575.72 304.07,579.53 304.49,581.21 304.92,581.11 305.35,582.01 305.78,576.34 306.21,581.42 306.64,577.62 307.07,581.63 307.5,582.52 307.93,580.8 308.36,577.62 308.78,583.05 309.21,579.48 309.64,582.68 310.07,583 310.5,581.13 310.93,584.21 311.36,579.65 311.79,585.87 312.22,579.68 312.65,581.23 313.07,584.14 313.5,581.88 313.93,585.34 314.36,581.68 314.79,588.13 315.22,585.5 315.65,587.81 316.08,585.23 316.51,586.18 316.94,588.21 317.36,583.27 317.79,586.86 318.22,585.36 318.65,583.66 319.08,585.86 319.51,587.32 319.94,587.83 320.37,590.01 320.8,585.47 321.23,588.78 321.65,587.9 322.08,589.57 322.51,585.7 322.94,590.15 323.37,589.95 323.8,586.59 324.23,586.28 324.66,590.13 325.09,589.05 325.52,593.08 325.94,591.55 326.37,588.83 326.8,589.73 327.23,592.42 327.66,588.53 328.09,588.64 328.52,592.39 328.95,587.73 329.38,590.29 329.81,587.42 330.23,580.23 330.66,592.53 331.09,594.09 331.52,593.72 331.95,591.21 332.38,592.68 332.81,592.86 333.24,590.76 333.67,590.06 334.1,589.05 334.52,590.62 334.95,593.94 335.38,594.23 335.81,589.35 336.24,593.71 336.67,588.31 337.1,588.05 337.53,591.23 337.96,589.69 338.39,588.11 338.81,590.18 339.24,594.6 339.67,589.21 340.1,594.6 340.53,592.14 340.96,588.12 341.39,594.6 341.82,590.86 342.25,593.31 342.68,587.84 343.1,590.33 343.53,583.53 343.96,594.57 344.39,589.82 344.82,594.26 345.25,594.36 345.68,591.88 346.11,588.63 346.54,594.6 346.97,577.93 347.39,590.08 347.82,593.08 348.25,589.49 348.68,589.12 349.11,594.55 349.54,590.46 349.97,590.45 350.4,591.62 350.83,592.17 351.26,592.62 351.68,594.6 352.11,592.37" fill="none" stroke="#8a2be2" stroke-width="1.4" stroke-linejoin="round" />
<polyline points="180.8,594.6 181.52,594.6 182.23,594.6 182.95,594.6 183.66,594.6 184.38,594.6 185.09,594.6 185.81,594.6 186.52,594.6 187.24,594.6 187.95,594.6 188.67,594.6 189.38,594.6 190.09,594.6 190.81,594.6 191.53,594.6 192.24,594.6 192.96,594.6 193.67,594.6 194.39,594.6 195.1,594.6 195.81,594.6 196.53,594.6 197.25,594.6 197.96,594.6 198.68,594.6 199.39,594.6 200.11,594.6 200.82,594.6 201.54,594.6 202.25,594.6 202.97,594.6 203.68,594.6 204.4,594.6 205.11,594.6 205.83,594.6 206.54,594.6 207.25,594.6 207.97,594.6 208.69,594.6 209.4,594.6 210.12,594.6 210.83,594.6 211.55,594.6 212.26,594.6 212.98,594.6 213.69,594.6 214.41,594.6 215.12,594.6 215.84,594.6 216.55,594.6 217.27,594.6 217.98,594.6 218.69,594.6 219.41,594.6 220.12,594.6 220.84,594.6 221.56,594.6 222.27,594.6 222.99,594.6 223.7,594.6 224.42,594.6 225.13,594.6 225.84,594.6 226.56,594.6 227.28,594.6 227.99,594.6 228.71,594.6 229.42,594.6 230.14,594.6 230.85,594.6 231.56,594.59 232.28,594.59 233,594.59 233.71,594.59 234.43,594.58 235.14,594.58 235.86,594.57 236.57,594.56 237.29,594.55 238,594.54 238.72,594.52 239.43,594.5 240.15,594.48 240.86,594.45 241.58,594.41 242.29,594.36 243,594.31 243.72,594.25 244.44,594.17 245.15,594.08 245.87,593.98 246.58,593.86 247.3,593.72 248.01,593.56 248.73,593.38 249.44,593.18 250.16,592.94 250.87,592.88 251.59,592.79 252.3,592.8 253.02,591.15 253.73,590.66 254.44,591.22 255.16,590.48 255.88,590.2 256.59,590.06 257.31,588.23 258.02,587.71 258.74,587.97 259.45,587.28 260.17,585.91 260.88,585.03 261.6,584.78 262.31,584.13 263.02,583.58 263.74,581.93 264.46,581.03 265.17,580.24 265.88,580.57 266.6,579.05 267.31,577.69 268.03,577.34 268.75,576.99 269.46,576.76 270.18,576.21 270.89,574.56 271.61,574.96 272.32,573.28 273.04,572.98 273.75,572.8 274.47,571.74 275.18,571.3 275.89,571.45 276.61,571.95 277.32,570.98 278.04,571.04 278.75,571.15 279.47,570.01 280.19,570.23 280.9,571.1 281.62,570.92 282.33,570.74 283.05,570.4 283.76,570.81 284.48,570.7 285.19,570.22 285.9,571.28 286.62,570.59 287.34,571.33 288.05,570.57 288.76,570.75 289.48,571.92 289.91,571.67 290.34,572.27 290.77,571.61 291.2,571.86 291.62,572.51 292.05,573.07 292.48,572.28 292.91,572.12 293.34,573.69 293.77,573.88 294.2,573.89 294.63,574.62 295.06,573.83 295.49,574.91 295.91,574.24 296.34,575.15 296.77,574.15 297.2,576.35 297.63,574.07 298.06,574.54 298.49,573.77 298.92,576.71 299.35,578.16 299.78,575.72 300.2,578.88 300.63,578.7 301.06,578.7 301.49,579.37 301.92,579.73 302.35,576.88 302.78,572.49 303.21,577.11 303.64,576.99 304.07,579.77 304.49,580.55 304.92,580.45 305.35,580.62 305.78,578.28 306.21,580.42 306.64,583.18 307.07,581.69 307.5,579.76 307.93,583.72 308.36,583.95 308.78,580.48 309.21,580.35 309.64,583.33 310.07,584.33 310.5,584.41 310.93,581.81 311.36,583.6 311.79,586.33 312.22,583.53 312.65,587.36 313.07,586.8 313.5,582.8 313.93,585.44 314.36,586.67 314.79,584.1 315.22,585.67 315.65,583.64 316.08,584.5 316.51,585.49 316.94,589.5 317.36,586.74 317.79,585.03 318.22,587.87 318.65,585.18 319.08,590.37 319.51,585.41 319.94,583.58 320.37,589.68 320.8,588.18 321.23,589.08 321.65,591.71 322.08,587.12 322.51,589.51 322.94,591.82 323.37,590.63 323.8,587.62" fill="none" stroke="#2a9a2a" stroke-width="1.4" stroke-linejoin="round" />
<polyline points="180.8,594.6 181.52,594.6 182.23,594.6 182.95,594.6 183.66,594.6 184.38,594.6 185.09,594.6 185.81,594.6 186.52,594.6 187.24,594.6 187.95,594.6 188.67,594.6 189.38,594.6 190.09,594.6 190.81,594.6 191.53,594.6 192.24,594.6 192.96,594.6 193.67,594.6 194.39,594.6 195.1,594.6 195.81,594.6 196.53,594.6 197.25,594.6 197.96,594.6 198.68,594.6 199.39,594.6 200.11,594.6 200.82,594.6 201.54,594.6 202.25,594.6 202.97,594.6 203.68,594.6 204.4,594.6 205.11,594.6 205.83,594.6 206.54,594.6 207.25,594.6 207.97,594.6 208.69,594.6 209.4,594.6 210.12,594.6 210.83,594.6 211.55,594.6 212.26,594.6 212.98,594.6 213.69,594.6 214.41,594.6 215.12,594.6 215.84,594.6 216.55,594.6 217.27,594.6 217.98,594.6 218.69,594.6 219.41,594.6 220.12,594.6 220.84,594.59 221.56,594.59 222.27,594.59 222.99,594.59 223.7,594.59 224.42,594.58 225.13,594.58 225.84,594.57 226.56,594.56 227.28,594.55 227.99,594.54 228.71,594.53 229.42,594.51 230.14,594.49 230.85,594.47 231.56,594.44 232.28,594.4 233,594.36 233.71,594.31 234.43,594.25 235.14,594.18 235.86,594.1 236.57,594.01 237.29,593.9 238,593.77 238.72,593.62 239.43,593.45 240.15,593.26 240.86,593.04 241.58,592.8 242.29,593.01 243,591.5 243.72,591.72 244.44,590.98 245.15,591.71 245.87,590.51 246.58,589.71 247.3,588.77 248.01,588.24 248.73,588.85 249.44,587.74 250.16,586.05 250.87,585.97 251.59,584.5 252.3,584.69 253.02,584.12 253.73,581.79 254.44,581.85 255.16,580.41 255.88,579.7 256.59,578.35 257.31,576.79 258.02,575.76 258.74,574.87 259.45,574.83 260.17,573.03 260.88,573.35 261.6,571.9 262.31,570.31 263.02,570.63 263.74,569.82 264.46,568.93 265.17,568.98 265.88,567.89 266.6,567.69 267.31,568.36 268.03,567.03 268.75,568.33 269.46,567.44 270.18,568.07 270.89,568.52 271.61,568.8 272.32,567.63 273.04,568.19 273.75,569.01 274.47,568.84 275.18,568.95 275.89,569.42 276.61,570.46 277.32,571.32 278.04,571.45 278.75,571.27 279.47,572.2 280.19,572.85 280.9,573.54 281.33,574.23 281.76,574.75 282.19,574.46 282.62,575.45 283.04,576.05 283.47,575.69 283.9,575.86 284.33,577.14 284.76,577.29 285.19,577.59 285.62,578.37 286.05,577.91 286.48,577.72 286.91,579.42 287.33,579.01 287.76,579.16 288.19,580.33 288.62,581.59 289.05,581.95 289.48,580.66 289.91,581.43 290.34,583.04 290.77,580.97 291.2,583.39 291.62,584.04 292.05,581.87 292.48,583.38 292.91,585.34 293.34,585.33 293.77,584.01 294.2,587.15 294.63,587.34 295.06,585.41 295.49,584.87 295.91,586.07 296.34,587.72 296.77,587.79 297.2,587.39 297.63,586.51 298.06,586.89 298.49,588.44 298.92,586.88 299.35,590.07 299.78,587.71 300.2,590.07 300.63,589.3 301.06,591.28 301.49,588.34 301.92,591.54 302.35,589.1 302.78,592.31 303.21,589.36 303.64,589.49 304.07,591.67 304.49,590.16 304.92,591.04 305.35,589.75 305.78,590.71 306.21,589.95 306.64,592.19 307.07,591.31 307.5,591.2 307.93,591.56 308.36,593.17 308.78,592.91 309.21,594.27 309.64,594.48 310.07,592 310.5,591.74 310.93,594.09 311.36,594.47 311.79,592.73 312.22,593.27 312.65,594.13 313.07,593.16 313.5,593.2 313.93,591.77 314.36,594.6 314.79,594.6 315.22,593.78 315.65,594.6 316.08,594.6 316.51,594.43 316.94,594.6 317.36,594.6 317.79,592.51" fill="none" stroke="#f28a1a" stroke-width="1.4" stroke-linejoin="round" />
<polyline points="180.8,594.6 181.52,594.6 182.23,594.6 182.95,594.6 183.66,594.6 184.38,594.6 185.09,594.6 185.81,594.6 186.52,594.6 187.24,594.6 187.95,594.6 188.67,594.6 189.38,594.6 190.09,594.6 190.81,594.6 191.53,594.6 192.24,594.6 192.96,594.6 193.67,594.6 194.39,594.6 195.1,594.6 195.81,594.6 196.53,594.6 197.25,594.6 197.96,594.6 198.68,594.6 199.39,594.6 200.11,594.6 200.82,594.6 201.54,594.6 202.25,594.6 202.97,594.6 203.68,594.6 204.4,594.6 205.11,594.59 205.83,594.59 206.54,594.58 207.25,594.57 207.97,594.55 208.69,594.51 209.4,594.46 210.12,594.38 210.83,594.27 211.55,594.1 212.26,593.88 212.98,593.57 213.69,593.16 214.41,593.07 215.12,591.47 215.84,590.53 216.55,590.68 217.27,588.91 217.98,587.42 218.69,586.49 219.41,584.39 220.12,581.97 220.84,579.77 221.56,577.59 222.27,575.27 222.99,573.26 223.7,571.34 224.42,569.07 225.13,565.56 225.84,563.37 226.56,561.3 227.28,560.72 227.99,558.03 228.71,557.49 229.42,556 230.14,555.2 230.85,553.37 231.56,552.79 232.28,552.3 233,552.65 233.71,551.6 234.43,552.5 235.14,551.98 235.86,551.81 236.57,552.5 237.29,552.39 238,553.04 238.72,552.31 239.43,553.66 240.15,554.26 240.86,554.66 241.58,554.83 242.29,555.62 243,556.66 243.72,557.11 244.44,558.28 245.15,560.17 245.87,560.8 246.58,562.52 247.3,563.62 248.01,565 248.73,566.37 249.44,567.23 250.16,567.71 250.87,569.34 251.59,571.49 252.3,572.57 253.02,573.26 253.73,574.6 254.44,576.57 255.16,577.65 255.88,578.09 256.59,579.15 257.31,581.01 258.02,581 258.74,582.79 259.45,583.2 260.17,584.19 260.88,585.32 261.6,585.2 262.31,586.6 262.74,586.67 263.17,586.48 263.6,587.68 264.03,587.53 264.45,587.76 264.88,590.08 265.31,586.9 265.74,589.41 266.17,590.02 266.6,590.2 267.03,592.9 267.46,591.72 267.89,585.95 268.32,591.88 268.74,591.84 269.17,579.35 269.6,582.82 270.03,593.47 270.46,593.7 270.89,589.2 271.32,590.58 271.75,590.75 272.18,593.77 272.61,594.56 273.03,594.6 273.46,594.6 273.89,594.6 274.32,592.67 274.75,592.86 275.18,594.6 275.61,593.92 276.04,594.6 276.47,584.43 276.9,592.25 277.32,593.89 277.75,594.27 278.18,594.6 278.61,594.6 279.04,591.31 279.47,594.6 279.9,591.08 280.33,593.98 280.76,594.6 281.19,594.6 281.61,593.43 282.04,592.42 282.47,591.1 282.9,593.67 283.33,594.6 283.76,592.01 284.19,591.83 284.62,593.71 285.05,594.6 285.48,594.6 285.9,594.6 286.33,592.16" fill="none" stroke="#e0208a" stroke-width="1.4" stroke-linejoin="round" />
<polyline points="180.8,594.6 181.52,594.6 182.23,594.6 182.95,594.6 183.66,594.6 184.38,594.6 185.09,594.6 185.81,594.6 186.52,594.6 187.24,594.6 187.95,594.6 188.67,594.6 189.38,594.6 190.09,594.6 190.81,594.58 191.53,594.55 192.24,594.47 192.96,594.29 193.67,593.89 194.39,593.12 195.1,591.63 195.81,588.73 196.53,585.75 197.25,581.43 197.96,574.16 198.68,566.25 199.39,556.33 200.11,545.35 200.82,535.45 201.54,524.1 202.25,514.72 202.97,506.03 203.68,499.11 204.4,494.82 205.11,491.38 205.83,490.08 206.54,489.33 207.25,488.75 207.97,488.74 208.69,489.55 209.4,489.61 210.12,491.56 210.83,494.09 211.55,497.36 212.26,500.42 212.98,505.03 213.69,510.4 214.41,517.47 215.12,524.24 215.84,530.21 216.55,538.09 217.27,543.77 217.98,550.8 218.69,557.76 219.41,563.59 220.12,568.68 220.84,574.33 221.56,578.25 222.27,581.22 222.99,583.59 223.34,585.5 223.7,586.85 224.06,588.39 224.42,593.15 224.77,590.12 225.13,594.6 225.49,591.21 225.84,581.49 226.2,594.6 226.56,587.79 226.92,588.86 227.28,583.04 227.63,582.78 227.99,594.6 228.35,591.8 228.71,590.47 229.06,594.24 229.42,594.6 229.78,594.6 230.14,594.6 230.49,594.6 230.85,594.6 231.21,594.6 231.56,579.53 231.92,592.36 232.28,591.96 232.64,594.42 233,585.53 233.35,589.18 233.71,589.89 234.07,591.39 234.43,594.03 234.78,594.6 235.14,592.14 235.5,594.6 235.86,594.6 236.21,588.81 236.57,584.08 236.93,588.55 237.29,580.5 237.64,588.63 238,594.6 238.36,594.6 238.72,587.17 239.07,594.6 239.43,592.81 239.79,591.16 240.15,590.76 240.5,590.55 240.86,594.6" fill="none" stroke="#1e1e9e" stroke-width="1.4" stroke-linejoin="round" />
<line x1="319.7" y1="473" x2="332.6" y2="473" stroke="#111" stroke-width="1.6" stroke-dasharray="3,1.5"/>
<text x="338.8" y="475.8" font-family='"Liberation Serif", serif' font-size="7.8" text-anchor="start" font-weight="normal" fill="#2b2b2b" stroke="#2b2b2b" stroke-width="0.26" >Control</text>
<line x1="319.7" y1="486.15" x2="332.6" y2="486.15" stroke="#2a9a2a" stroke-width="1.6" />
<text x="338.8" y="488.95" font-family='"Liberation Serif", serif' font-size="7.8" text-anchor="start" font-weight="normal" fill="#2b2b2b" stroke="#2b2b2b" stroke-width="0.26" >H1</text>
<line x1="319.7" y1="499.3" x2="332.6" y2="499.3" stroke="#8a2be2" stroke-width="1.6" />
<text x="338.8" y="502.1" font-family='"Liberation Serif", serif' font-size="7.8" text-anchor="start" font-weight="normal" fill="#2b2b2b" stroke="#2b2b2b" stroke-width="0.26" >H2A</text>
<line x1="319.7" y1="512.45" x2="332.6" y2="512.45" stroke="#f28a1a" stroke-width="1.6" />
<text x="338.8" y="515.25" font-family='"Liberation Serif", serif' font-size="7.8" text-anchor="start" font-weight="normal" fill="#2b2b2b" stroke="#2b2b2b" stroke-width="0.26" >H2B</text>
<line x1="319.7" y1="525.6" x2="332.6" y2="525.6" stroke="#e0208a" stroke-width="1.6" />
<text x="338.8" y="528.4" font-family='"Liberation Serif", serif' font-size="7.8" text-anchor="start" font-weight="normal" fill="#2b2b2b" stroke="#2b2b2b" stroke-width="0.26" >H3</text>
<line x1="319.7" y1="538.75" x2="332.6" y2="538.75" stroke="#1e1e9e" stroke-width="1.6" />
<text x="338.8" y="541.55" font-family='"Liberation Serif", serif' font-size="7.8" text-anchor="start" font-weight="normal" fill="#2b2b2b" stroke="#2b2b2b" stroke-width="0.26" >H4</text>
</svg></body></html>
